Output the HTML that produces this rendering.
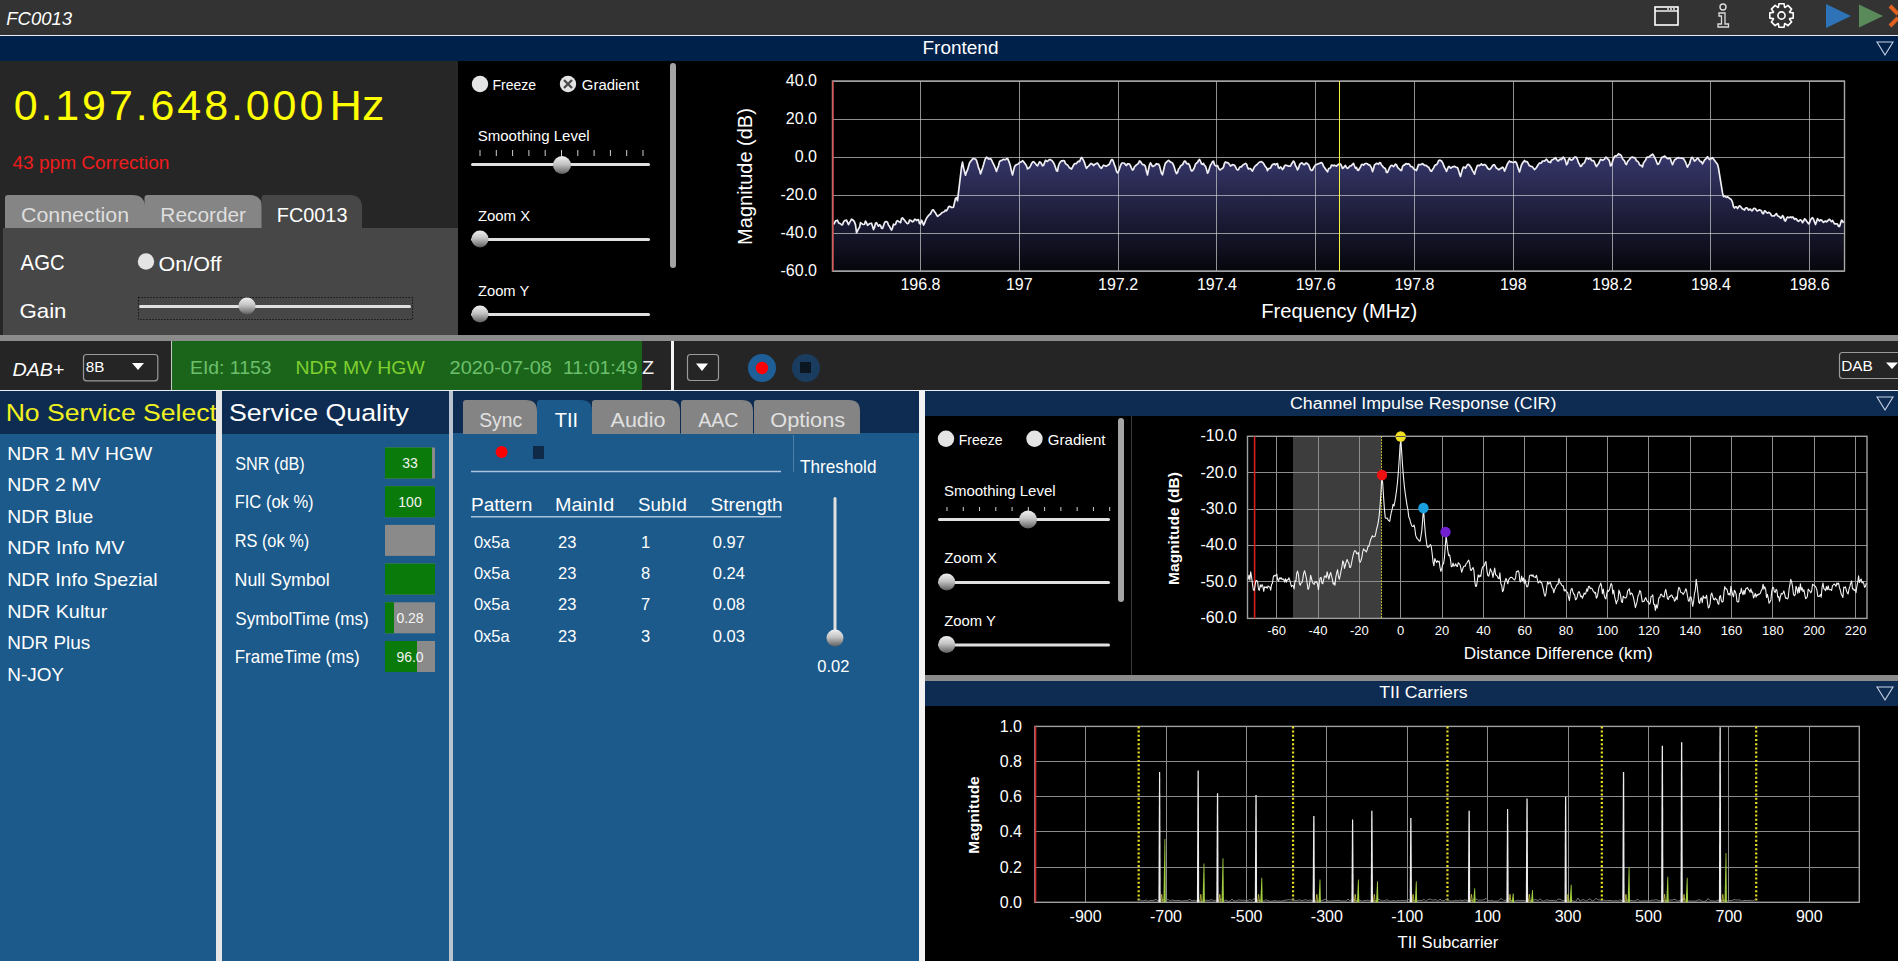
<!DOCTYPE html>
<html><head><meta charset="utf-8"><style>
html,body{margin:0;padding:0;background:#000;width:1898px;height:961px;overflow:hidden}
svg{display:block}
text{font-family:"Liberation Sans",sans-serif}
</style></head><body>
<svg width="1898" height="961" viewBox="0 0 1898 961" font-family="Liberation Sans, sans-serif">
<defs>
<linearGradient id="thumb" x1="0" y1="0" x2="0" y2="1">
<stop offset="0" stop-color="#f0f0f0"/><stop offset="0.45" stop-color="#c4c4c4"/><stop offset="1" stop-color="#5e5e5e"/></linearGradient>
<linearGradient id="specfill" gradientUnits="userSpaceOnUse" x1="0" y1="150" x2="0" y2="271">
<stop offset="0" stop-color="#39396f"/><stop offset="1" stop-color="#06060d"/></linearGradient>
</defs>
<rect x="0" y="0" width="1898" height="35" fill="#333333" />
<text x="6.35" y="25" font-size="19" fill="#ffffff" font-weight="normal" font-style="italic" textLength="65.70" lengthAdjust="spacingAndGlyphs" >FC0013</text>
<rect x="0" y="35" width="1898" height="1" fill="#e8eef4" />
<rect x="1655" y="7" width="23" height="18" fill="none" stroke="#fff" stroke-width="1.6"/>
<line x1="1655" y1="11" x2="1678" y2="11" stroke="#fff" stroke-width="1.4"/>
<circle cx="1668" cy="9" r="0.9" fill="#fff" />
<circle cx="1671" cy="9" r="0.9" fill="#fff" />
<circle cx="1674" cy="9" r="0.9" fill="#fff" />
<circle cx="1723" cy="7" r="3" fill="none" stroke="#ddd" stroke-width="1.4"/>
<path d="M1719 13 H1725 V24 H1728.5 V27 H1718 V24 H1721.5 V16 H1719 Z" fill="none" stroke="#ddd" stroke-width="1.3"/>
<polygon points="1793.21,12.88 1793.21,18.12 1789.74,18.60 1789.52,19.13 1791.63,21.93 1787.93,25.63 1785.13,23.52 1784.60,23.74 1784.12,27.21 1778.88,27.21 1778.40,23.74 1777.87,23.52 1775.07,25.63 1771.37,21.93 1773.48,19.13 1773.26,18.60 1769.79,18.12 1769.79,12.88 1773.26,12.40 1773.48,11.87 1771.37,9.07 1775.07,5.37 1777.87,7.48 1778.40,7.26 1778.88,3.79 1784.12,3.79 1784.60,7.26 1785.13,7.48 1787.93,5.37 1791.63,9.07 1789.52,11.87 1789.74,12.40" fill="none" stroke="#fff" stroke-width="1.6" stroke-linejoin="round"/>
<circle cx="1781.5" cy="15.5" r="3.6" fill="none" stroke="#fff" stroke-width="1.6"/>
<path d="M1826 4 L1851 16 L1826 28 Z" fill="#2e73b8"/>
<path d="M1859 4.5 L1883 16 L1859 27.5 Z" fill="#5a8a5a"/>
<path d="M1890 6 L1898 14 M1890 26 L1898 18" stroke="#e06020" stroke-width="4"/>
<rect x="0" y="36" width="1898" height="25" fill="#00214a" />
<text x="922.48" y="54" font-size="18" fill="#fff" font-weight="normal" font-style="normal" textLength="76.01" lengthAdjust="spacingAndGlyphs" >Frontend</text>
<path d="M1877 42 L1893 42 L1885.0 55 Z" fill="none" stroke="#c8d4e8" stroke-width="1.1"/>
<rect x="0" y="61" width="458" height="274" fill="#262626" />
<text x="13.66" y="120" font-size="43" fill="#ffff00" font-weight="normal" font-style="normal" textLength="309.64" lengthAdjust="spacing" >0.197.648.000</text>
<text x="329.50" y="120" font-size="43" fill="#ffff00" font-weight="normal" font-style="normal" textLength="54.94" lengthAdjust="spacingAndGlyphs" >Hz</text>
<text x="12.42" y="168.6" font-size="18" fill="#ee1c1c" font-weight="normal" font-style="normal" textLength="156.95" lengthAdjust="spacingAndGlyphs" >43 ppm Correction</text>
<path d="M5 229 V198 Q5 195 8 195 H132.5 Q145 195 145 207.5 V229 Z" fill="#858585"/>
<path d="M144.5 229 V198 Q144.5 195 147.5 195 H249.5 Q262 195 262 207.5 V229 Z" fill="#858585"/>
<path d="M261.5 229 V198 Q261.5 195 264.5 195 H349.5 Q362 195 362 207.5 V229 Z" fill="#474747"/>
<text x="21.03" y="221.5" font-size="20" fill="#dedede" font-weight="normal" font-style="normal" textLength="108.13" lengthAdjust="spacingAndGlyphs" >Connection</text>
<text x="160.33" y="221.5" font-size="20" fill="#dedede" font-weight="normal" font-style="normal" textLength="85.74" lengthAdjust="spacingAndGlyphs" >Recorder</text>
<text x="276.81" y="221.5" font-size="20" fill="#ffffff" font-weight="normal" font-style="normal" textLength="70.64" lengthAdjust="spacingAndGlyphs" >FC0013</text>
<rect x="3" y="228" width="455" height="107" fill="#474747" />
<text x="20.60" y="269.6" font-size="22" fill="#fff" font-weight="normal" font-style="normal" textLength="44.05" lengthAdjust="spacingAndGlyphs" >AGC</text>
<circle cx="146" cy="261.5" r="8.2" fill="#e4e4e4" />
<text x="158.63" y="271.3" font-size="21" fill="#fff" font-weight="normal" font-style="normal" textLength="62.91" lengthAdjust="spacingAndGlyphs" >On/Off</text>
<text x="19.49" y="317.5" font-size="21" fill="#fff" font-weight="normal" font-style="normal" textLength="47.00" lengthAdjust="spacingAndGlyphs" >Gain</text>
<rect x="138.5" y="297.5" width="274" height="22" fill="none" stroke="#111" stroke-width="1.1" stroke-dasharray="1.3,1.7"/>
<rect x="139" y="305" width="272" height="3" fill="#e0e0e0" rx="1.5"/>
<circle cx="247" cy="306" r="8.5" fill="url(#thumb)" />
<rect x="458" y="61" width="1440" height="274" fill="#000000" />
<circle cx="480" cy="84" r="8.2" fill="#e4e4e4" />
<text x="492.48" y="90" font-size="15" fill="#fff" font-weight="normal" font-style="normal" textLength="43.72" lengthAdjust="spacingAndGlyphs" >Freeze</text>
<circle cx="568" cy="84" r="8.2" fill="#e4e4e4" />
<path d="M564 80 L572 88 M572 80 L564 88" stroke="#4a4a4a" stroke-width="2.3"/>
<text x="581.85" y="90" font-size="15" fill="#fff" font-weight="normal" font-style="normal" textLength="57.23" lengthAdjust="spacingAndGlyphs" >Gradient</text>
<text x="477.72" y="140.5" font-size="15" fill="#fff" font-weight="normal" font-style="normal" textLength="111.92" lengthAdjust="spacingAndGlyphs" >Smoothing Level</text>
<line x1="480.0" y1="150" x2="480.0" y2="156" stroke="#cfcfcf" stroke-width="1" />
<line x1="496.3" y1="150" x2="496.3" y2="156" stroke="#cfcfcf" stroke-width="1" />
<line x1="512.6" y1="150" x2="512.6" y2="156" stroke="#cfcfcf" stroke-width="1" />
<line x1="528.9" y1="150" x2="528.9" y2="156" stroke="#cfcfcf" stroke-width="1" />
<line x1="545.2" y1="150" x2="545.2" y2="156" stroke="#cfcfcf" stroke-width="1" />
<line x1="561.5" y1="150" x2="561.5" y2="156" stroke="#cfcfcf" stroke-width="1" />
<line x1="577.8" y1="150" x2="577.8" y2="156" stroke="#cfcfcf" stroke-width="1" />
<line x1="594.1" y1="150" x2="594.1" y2="156" stroke="#cfcfcf" stroke-width="1" />
<line x1="610.4" y1="150" x2="610.4" y2="156" stroke="#cfcfcf" stroke-width="1" />
<line x1="626.7" y1="150" x2="626.7" y2="156" stroke="#cfcfcf" stroke-width="1" />
<line x1="643.0" y1="150" x2="643.0" y2="156" stroke="#cfcfcf" stroke-width="1" />
<rect x="471" y="163" width="179" height="3" fill="#e0e0e0" rx="1.5"/>
<circle cx="562" cy="165" r="9" fill="url(#thumb)" />
<text x="477.95" y="221.2" font-size="15" fill="#fff" font-weight="normal" font-style="normal" textLength="52.16" lengthAdjust="spacingAndGlyphs" >Zoom X</text>
<rect x="471" y="238" width="179" height="3" fill="#e0e0e0" rx="1.5"/>
<circle cx="480" cy="239" r="8.5" fill="url(#thumb)" />
<text x="477.96" y="296.2" font-size="15" fill="#fff" font-weight="normal" font-style="normal" textLength="51.28" lengthAdjust="spacingAndGlyphs" >Zoom Y</text>
<rect x="471" y="313" width="179" height="3" fill="#e0e0e0" rx="1.5"/>
<circle cx="480" cy="314" r="8.5" fill="url(#thumb)" />
<rect x="670" y="63" width="6" height="205" fill="#a4a4a4" rx="3"/>
<path d="M833.5,271 L833.5,224.5 L834.5,223.1 L835.5,220.9 L836.5,220.6 L837.5,220.2 L838.5,222.7 L839.5,223.4 L840.5,223.7 L841.5,224.8 L842.5,224.7 L843.5,222.1 L844.5,220.7 L845.5,220.5 L846.5,220.1 L847.5,222.4 L848.5,224.7 L849.5,222.6 L850.5,221.1 L851.5,219.2 L852.5,219.8 L853.5,220.5 L854.5,222.0 L855.5,224.9 L856.5,232.7 L857.5,231.0 L858.5,228.7 L859.5,227.5 L860.5,222.7 L861.5,223.4 L862.5,224.2 L863.5,224.5 L864.5,224.2 L865.5,221.1 L866.5,222.7 L867.5,225.3 L868.5,224.6 L869.5,223.7 L870.5,223.5 L871.5,223.2 L872.5,226.2 L873.5,229.6 L874.5,227.5 L875.5,223.3 L876.5,222.7 L877.5,224.6 L878.5,226.2 L879.5,224.8 L880.5,225.4 L881.5,228.2 L882.5,228.5 L883.5,225.7 L884.5,222.8 L885.5,221.6 L886.5,221.7 L887.5,222.2 L888.5,225.3 L889.5,226.4 L890.5,228.4 L891.5,230.2 L892.5,227.8 L893.5,224.2 L894.5,224.8 L895.5,224.5 L896.5,221.5 L897.5,220.6 L898.5,221.4 L899.5,221.9 L900.5,222.7 L901.5,218.7 L902.5,217.8 L903.5,219.2 L904.5,220.2 L905.5,221.6 L906.5,222.8 L907.5,223.6 L908.5,223.3 L909.5,220.1 L910.5,220.3 L911.5,221.0 L912.5,221.8 L913.5,221.3 L914.5,219.3 L915.5,219.3 L916.5,220.6 L917.5,219.8 L918.5,219.7 L919.5,223.5 L920.5,223.9 L921.5,220.2 L922.5,222.1 L923.5,225.1 L924.5,223.3 L925.5,220.4 L926.5,218.4 L927.5,216.8 L928.5,215.6 L929.5,214.5 L930.5,213.8 L931.5,211.6 L932.5,209.9 L933.5,209.9 L934.5,211.8 L935.5,212.9 L936.5,214.8 L937.5,216.4 L938.5,215.7 L939.5,214.9 L940.5,214.2 L941.5,213.2 L942.5,212.3 L943.5,212.0 L944.5,211.5 L945.5,210.1 L946.5,210.8 L947.5,209.1 L948.5,206.8 L949.5,206.4 L950.5,206.8 L951.5,207.5 L952.5,207.4 L953.5,207.1 L954.5,202.7 L955.5,198.5 L956.5,197.7 L957.5,200.8 L958.5,192.4 L959.5,184.0 L960.5,175.6 L961.5,167.2 L962.5,162.2 L963.5,167.6 L964.5,171.6 L965.5,175.2 L966.5,172.1 L967.5,169.9 L968.5,166.4 L969.5,163.0 L970.5,161.4 L971.5,160.4 L972.5,159.0 L973.5,158.5 L974.5,158.9 L975.5,159.0 L976.5,160.5 L977.5,163.7 L978.5,167.6 L979.5,169.9 L980.5,173.9 L981.5,170.9 L982.5,168.1 L983.5,165.0 L984.5,161.3 L985.5,158.5 L986.5,157.2 L987.5,157.8 L988.5,159.1 L989.5,159.0 L990.5,158.6 L991.5,159.9 L992.5,162.1 L993.5,164.2 L994.5,166.2 L995.5,168.7 L996.5,171.4 L997.5,168.2 L998.5,165.8 L999.5,161.7 L1000.5,160.6 L1001.5,160.7 L1002.5,159.8 L1003.5,159.3 L1004.5,159.6 L1005.5,159.6 L1006.5,158.9 L1007.5,158.5 L1008.5,160.5 L1009.5,163.1 L1010.5,166.6 L1011.5,171.3 L1012.5,175.0 L1013.5,170.7 L1014.5,166.8 L1015.5,165.3 L1016.5,164.7 L1017.5,164.3 L1018.5,163.8 L1019.5,162.6 L1020.5,162.1 L1021.5,161.8 L1022.5,160.7 L1023.5,161.6 L1024.5,162.9 L1025.5,164.3 L1026.5,165.9 L1027.5,168.9 L1028.5,168.2 L1029.5,167.5 L1030.5,165.9 L1031.5,163.7 L1032.5,162.1 L1033.5,161.7 L1034.5,162.7 L1035.5,163.6 L1036.5,165.1 L1037.5,165.9 L1038.5,163.9 L1039.5,161.9 L1040.5,162.3 L1041.5,163.8 L1042.5,165.8 L1043.5,165.5 L1044.5,162.9 L1045.5,160.3 L1046.5,160.9 L1047.5,161.4 L1048.5,160.3 L1049.5,159.5 L1050.5,159.7 L1051.5,160.3 L1052.5,161.2 L1053.5,162.7 L1054.5,164.7 L1055.5,167.5 L1056.5,170.7 L1057.5,171.1 L1058.5,165.7 L1059.5,163.2 L1060.5,161.8 L1061.5,160.8 L1062.5,160.9 L1063.5,160.5 L1064.5,161.1 L1065.5,163.6 L1066.5,164.4 L1067.5,164.9 L1068.5,166.4 L1069.5,167.9 L1070.5,168.3 L1071.5,169.0 L1072.5,167.2 L1073.5,165.2 L1074.5,163.6 L1075.5,163.7 L1076.5,163.7 L1077.5,161.9 L1078.5,161.2 L1079.5,161.7 L1080.5,159.2 L1081.5,157.4 L1082.5,158.6 L1083.5,160.4 L1084.5,162.6 L1085.5,166.0 L1086.5,168.3 L1087.5,166.9 L1088.5,166.1 L1089.5,165.2 L1090.5,163.7 L1091.5,163.5 L1092.5,164.3 L1093.5,165.6 L1094.5,164.4 L1095.5,164.2 L1096.5,163.4 L1097.5,163.2 L1098.5,164.6 L1099.5,166.2 L1100.5,167.7 L1101.5,168.3 L1102.5,166.6 L1103.5,165.2 L1104.5,165.5 L1105.5,166.1 L1106.5,166.2 L1107.5,165.3 L1108.5,164.9 L1109.5,164.0 L1110.5,161.7 L1111.5,159.7 L1112.5,159.7 L1113.5,161.8 L1114.5,165.2 L1115.5,167.4 L1116.5,171.3 L1117.5,172.9 L1118.5,171.5 L1119.5,168.8 L1120.5,165.6 L1121.5,163.6 L1122.5,163.0 L1123.5,163.0 L1124.5,163.3 L1125.5,164.8 L1126.5,165.5 L1127.5,163.8 L1128.5,163.8 L1129.5,164.1 L1130.5,165.8 L1131.5,168.2 L1132.5,170.1 L1133.5,169.3 L1134.5,166.7 L1135.5,165.9 L1136.5,164.7 L1137.5,164.3 L1138.5,163.1 L1139.5,160.9 L1140.5,161.5 L1141.5,163.3 L1142.5,164.6 L1143.5,164.7 L1144.5,165.1 L1145.5,166.8 L1146.5,171.6 L1147.5,174.9 L1148.5,169.5 L1149.5,165.0 L1150.5,162.8 L1151.5,164.6 L1152.5,166.5 L1153.5,166.1 L1154.5,165.8 L1155.5,164.7 L1156.5,163.7 L1157.5,164.3 L1158.5,164.0 L1159.5,165.9 L1160.5,169.6 L1161.5,173.5 L1162.5,174.8 L1163.5,170.5 L1164.5,166.0 L1165.5,163.0 L1166.5,162.1 L1167.5,161.1 L1168.5,160.4 L1169.5,161.2 L1170.5,162.2 L1171.5,162.4 L1172.5,163.2 L1173.5,165.0 L1174.5,168.1 L1175.5,171.4 L1176.5,173.6 L1177.5,172.7 L1178.5,169.0 L1179.5,168.0 L1180.5,166.1 L1181.5,165.0 L1182.5,164.9 L1183.5,162.7 L1184.5,161.0 L1185.5,161.4 L1186.5,163.3 L1187.5,164.0 L1188.5,163.6 L1189.5,165.2 L1190.5,168.6 L1191.5,171.0 L1192.5,170.7 L1193.5,169.3 L1194.5,167.2 L1195.5,164.1 L1196.5,163.1 L1197.5,162.5 L1198.5,160.5 L1199.5,159.3 L1200.5,161.3 L1201.5,163.9 L1202.5,164.3 L1203.5,163.4 L1204.5,165.5 L1205.5,166.2 L1206.5,169.4 L1207.5,173.2 L1208.5,171.5 L1209.5,168.1 L1210.5,165.0 L1211.5,163.7 L1212.5,161.5 L1213.5,161.2 L1214.5,164.7 L1215.5,165.8 L1216.5,165.9 L1217.5,165.7 L1218.5,167.9 L1219.5,169.6 L1220.5,169.8 L1221.5,168.7 L1222.5,168.4 L1223.5,167.0 L1224.5,163.3 L1225.5,161.9 L1226.5,162.6 L1227.5,162.6 L1228.5,163.3 L1229.5,164.6 L1230.5,166.0 L1231.5,165.5 L1232.5,164.6 L1233.5,165.0 L1234.5,165.1 L1235.5,166.8 L1236.5,169.0 L1237.5,170.0 L1238.5,169.7 L1239.5,167.2 L1240.5,166.9 L1241.5,166.9 L1242.5,165.2 L1243.5,164.7 L1244.5,164.1 L1245.5,163.4 L1246.5,164.1 L1247.5,167.1 L1248.5,169.0 L1249.5,168.5 L1250.5,168.5 L1251.5,170.1 L1252.5,171.0 L1253.5,168.8 L1254.5,166.8 L1255.5,165.7 L1256.5,165.1 L1257.5,164.0 L1258.5,163.0 L1259.5,162.0 L1260.5,161.9 L1261.5,161.7 L1262.5,162.4 L1263.5,163.3 L1264.5,165.2 L1265.5,166.8 L1266.5,167.9 L1267.5,170.6 L1268.5,168.6 L1269.5,168.4 L1270.5,168.0 L1271.5,166.0 L1272.5,164.4 L1273.5,164.3 L1274.5,163.8 L1275.5,164.9 L1276.5,163.8 L1277.5,163.7 L1278.5,167.7 L1279.5,168.3 L1280.5,166.9 L1281.5,167.9 L1282.5,169.5 L1283.5,168.4 L1284.5,165.9 L1285.5,165.1 L1286.5,165.5 L1287.5,165.7 L1288.5,166.1 L1289.5,166.1 L1290.5,166.1 L1291.5,164.0 L1292.5,162.5 L1293.5,161.1 L1294.5,162.5 L1295.5,165.7 L1296.5,167.3 L1297.5,169.9 L1298.5,168.2 L1299.5,165.0 L1300.5,163.6 L1301.5,162.9 L1302.5,163.3 L1303.5,164.5 L1304.5,164.6 L1305.5,163.4 L1306.5,163.0 L1307.5,163.8 L1308.5,164.6 L1309.5,167.0 L1310.5,169.7 L1311.5,170.5 L1312.5,170.2 L1313.5,168.1 L1314.5,166.2 L1315.5,165.0 L1316.5,164.4 L1317.5,164.1 L1318.5,163.7 L1319.5,163.5 L1320.5,162.8 L1321.5,162.6 L1322.5,163.6 L1323.5,166.2 L1324.5,167.5 L1325.5,169.1 L1326.5,170.4 L1327.5,171.9 L1328.5,169.0 L1329.5,168.2 L1330.5,167.7 L1331.5,165.1 L1332.5,165.3 L1333.5,165.8 L1334.5,165.2 L1335.5,165.7 L1336.5,166.1 L1337.5,165.0 L1338.5,164.5 L1339.5,163.7 L1340.5,164.0 L1341.5,165.8 L1342.5,168.4 L1343.5,167.8 L1344.5,166.4 L1345.5,165.5 L1346.5,167.6 L1347.5,168.4 L1348.5,167.7 L1349.5,166.4 L1350.5,165.8 L1351.5,165.6 L1352.5,164.3 L1353.5,163.3 L1354.5,166.0 L1355.5,168.2 L1356.5,167.5 L1357.5,170.1 L1358.5,170.3 L1359.5,168.5 L1360.5,167.0 L1361.5,164.5 L1362.5,164.4 L1363.5,165.2 L1364.5,164.1 L1365.5,163.5 L1366.5,163.5 L1367.5,163.9 L1368.5,164.8 L1369.5,164.8 L1370.5,166.2 L1371.5,168.0 L1372.5,171.6 L1373.5,168.7 L1374.5,164.9 L1375.5,164.2 L1376.5,163.4 L1377.5,163.6 L1378.5,164.3 L1379.5,162.7 L1380.5,162.8 L1381.5,165.0 L1382.5,166.0 L1383.5,167.5 L1384.5,168.0 L1385.5,168.9 L1386.5,172.5 L1387.5,172.5 L1388.5,170.2 L1389.5,167.7 L1390.5,166.2 L1391.5,165.3 L1392.5,165.5 L1393.5,166.7 L1394.5,165.5 L1395.5,164.1 L1396.5,165.0 L1397.5,167.0 L1398.5,168.4 L1399.5,169.1 L1400.5,170.3 L1401.5,170.5 L1402.5,166.7 L1403.5,165.1 L1404.5,165.1 L1405.5,163.9 L1406.5,163.7 L1407.5,164.1 L1408.5,163.8 L1409.5,164.4 L1410.5,166.5 L1411.5,166.7 L1412.5,166.9 L1413.5,168.7 L1414.5,169.6 L1415.5,169.6 L1416.5,170.5 L1417.5,167.6 L1418.5,164.6 L1419.5,164.5 L1420.5,164.7 L1421.5,164.2 L1422.5,163.6 L1423.5,164.5 L1424.5,165.4 L1425.5,165.4 L1426.5,165.6 L1427.5,166.8 L1428.5,167.0 L1429.5,168.8 L1430.5,170.9 L1431.5,171.3 L1432.5,169.5 L1433.5,168.2 L1434.5,166.1 L1435.5,164.8 L1436.5,164.6 L1437.5,163.5 L1438.5,160.7 L1439.5,160.2 L1440.5,160.4 L1441.5,161.0 L1442.5,162.5 L1443.5,164.9 L1444.5,167.4 L1445.5,169.0 L1446.5,171.4 L1447.5,169.0 L1448.5,166.5 L1449.5,166.7 L1450.5,168.1 L1451.5,167.7 L1452.5,166.9 L1453.5,166.7 L1454.5,166.3 L1455.5,166.9 L1456.5,167.5 L1457.5,167.6 L1458.5,170.1 L1459.5,173.9 L1460.5,176.5 L1461.5,172.6 L1462.5,169.0 L1463.5,167.0 L1464.5,167.3 L1465.5,168.2 L1466.5,166.2 L1467.5,164.6 L1468.5,164.4 L1469.5,165.3 L1470.5,166.8 L1471.5,168.3 L1472.5,170.6 L1473.5,172.1 L1474.5,174.2 L1475.5,170.5 L1476.5,167.7 L1477.5,165.4 L1478.5,165.4 L1479.5,165.6 L1480.5,164.7 L1481.5,163.9 L1482.5,165.2 L1483.5,164.9 L1484.5,164.4 L1485.5,164.9 L1486.5,166.3 L1487.5,168.0 L1488.5,168.9 L1489.5,169.5 L1490.5,168.7 L1491.5,167.3 L1492.5,165.7 L1493.5,164.8 L1494.5,164.9 L1495.5,166.6 L1496.5,168.2 L1497.5,168.5 L1498.5,169.8 L1499.5,169.4 L1500.5,168.3 L1501.5,168.1 L1502.5,167.2 L1503.5,168.1 L1504.5,171.1 L1505.5,168.9 L1506.5,166.1 L1507.5,163.8 L1508.5,162.2 L1509.5,161.0 L1510.5,162.0 L1511.5,161.9 L1512.5,162.3 L1513.5,162.5 L1514.5,161.9 L1515.5,161.7 L1516.5,163.1 L1517.5,166.0 L1518.5,169.3 L1519.5,171.9 L1520.5,168.5 L1521.5,165.0 L1522.5,163.1 L1523.5,161.9 L1524.5,160.5 L1525.5,161.6 L1526.5,161.5 L1527.5,162.1 L1528.5,164.2 L1529.5,165.7 L1530.5,166.1 L1531.5,166.5 L1532.5,166.9 L1533.5,168.4 L1534.5,169.5 L1535.5,168.6 L1536.5,167.5 L1537.5,165.8 L1538.5,164.2 L1539.5,163.1 L1540.5,163.2 L1541.5,162.7 L1542.5,161.0 L1543.5,161.0 L1544.5,161.1 L1545.5,160.2 L1546.5,159.1 L1547.5,160.6 L1548.5,162.0 L1549.5,162.1 L1550.5,162.6 L1551.5,160.1 L1552.5,159.9 L1553.5,159.2 L1554.5,158.5 L1555.5,157.7 L1556.5,159.3 L1557.5,160.7 L1558.5,161.0 L1559.5,159.5 L1560.5,159.1 L1561.5,159.6 L1562.5,157.6 L1563.5,157.2 L1564.5,158.7 L1565.5,160.9 L1566.5,164.8 L1567.5,163.5 L1568.5,159.8 L1569.5,158.2 L1570.5,159.7 L1571.5,160.2 L1572.5,159.6 L1573.5,158.6 L1574.5,157.1 L1575.5,157.1 L1576.5,157.6 L1577.5,159.7 L1578.5,162.7 L1579.5,164.3 L1580.5,166.3 L1581.5,166.1 L1582.5,164.2 L1583.5,163.4 L1584.5,162.7 L1585.5,160.0 L1586.5,157.7 L1587.5,158.4 L1588.5,159.2 L1589.5,158.2 L1590.5,158.5 L1591.5,160.4 L1592.5,160.7 L1593.5,160.6 L1594.5,162.3 L1595.5,165.0 L1596.5,166.6 L1597.5,164.9 L1598.5,163.8 L1599.5,161.6 L1600.5,159.3 L1601.5,159.7 L1602.5,160.3 L1603.5,159.9 L1604.5,159.1 L1605.5,157.4 L1606.5,157.3 L1607.5,158.9 L1608.5,159.3 L1609.5,161.4 L1610.5,165.9 L1611.5,165.2 L1612.5,161.6 L1613.5,158.5 L1614.5,156.5 L1615.5,155.8 L1616.5,156.0 L1617.5,155.2 L1618.5,153.7 L1619.5,154.7 L1620.5,154.7 L1621.5,156.0 L1622.5,158.8 L1623.5,159.9 L1624.5,160.9 L1625.5,163.7 L1626.5,164.5 L1627.5,161.8 L1628.5,160.5 L1629.5,159.5 L1630.5,157.9 L1631.5,157.3 L1632.5,157.0 L1633.5,157.7 L1634.5,157.5 L1635.5,158.7 L1636.5,160.9 L1637.5,161.2 L1638.5,162.3 L1639.5,164.8 L1640.5,165.2 L1641.5,165.8 L1642.5,166.8 L1643.5,162.9 L1644.5,161.6 L1645.5,160.2 L1646.5,157.9 L1647.5,157.0 L1648.5,157.3 L1649.5,156.6 L1650.5,155.5 L1651.5,155.1 L1652.5,154.1 L1653.5,155.3 L1654.5,157.1 L1655.5,159.2 L1656.5,161.6 L1657.5,164.3 L1658.5,164.2 L1659.5,162.4 L1660.5,160.0 L1661.5,157.9 L1662.5,157.0 L1663.5,156.9 L1664.5,156.1 L1665.5,156.7 L1666.5,157.9 L1667.5,158.6 L1668.5,158.7 L1669.5,157.9 L1670.5,158.9 L1671.5,162.5 L1672.5,164.7 L1673.5,162.1 L1674.5,160.0 L1675.5,159.3 L1676.5,158.5 L1677.5,157.8 L1678.5,157.7 L1679.5,157.9 L1680.5,158.0 L1681.5,158.1 L1682.5,158.3 L1683.5,158.5 L1684.5,160.4 L1685.5,162.0 L1686.5,164.8 L1687.5,167.2 L1688.5,165.0 L1689.5,163.8 L1690.5,160.3 L1691.5,157.5 L1692.5,157.4 L1693.5,159.1 L1694.5,161.1 L1695.5,160.4 L1696.5,159.2 L1697.5,158.0 L1698.5,158.9 L1699.5,160.7 L1700.5,161.7 L1701.5,161.7 L1702.5,163.9 L1703.5,162.1 L1704.5,160.0 L1705.5,159.3 L1706.5,157.9 L1707.5,156.7 L1708.5,158.5 L1709.5,159.5 L1710.5,158.7 L1711.5,158.6 L1712.5,157.7 L1713.5,159.0 L1714.5,160.3 L1715.5,161.7 L1716.5,163.0 L1717.5,164.3 L1718.5,168.1 L1719.5,174.3 L1720.5,180.5 L1721.5,186.7 L1722.5,192.9 L1723.5,196.6 L1724.5,196.1 L1725.5,196.7 L1726.5,197.4 L1727.5,196.8 L1728.5,197.4 L1729.5,198.4 L1730.5,198.9 L1731.5,200.0 L1732.5,202.4 L1733.5,206.8 L1734.5,208.0 L1735.5,206.8 L1736.5,206.9 L1737.5,208.5 L1738.5,207.1 L1739.5,205.8 L1740.5,206.4 L1741.5,207.7 L1742.5,209.0 L1743.5,209.3 L1744.5,210.0 L1745.5,208.1 L1746.5,207.8 L1747.5,208.3 L1748.5,210.2 L1749.5,209.3 L1750.5,209.1 L1751.5,210.7 L1752.5,210.6 L1753.5,208.6 L1754.5,208.3 L1755.5,208.7 L1756.5,210.4 L1757.5,210.9 L1758.5,210.3 L1759.5,209.9 L1760.5,210.2 L1761.5,211.1 L1762.5,213.4 L1763.5,213.7 L1764.5,210.8 L1765.5,211.3 L1766.5,212.6 L1767.5,213.1 L1768.5,212.4 L1769.5,212.8 L1770.5,213.6 L1771.5,215.7 L1772.5,216.0 L1773.5,215.8 L1774.5,215.8 L1775.5,214.5 L1776.5,213.6 L1777.5,215.6 L1778.5,216.3 L1779.5,216.5 L1780.5,218.1 L1781.5,217.9 L1782.5,215.6 L1783.5,216.6 L1784.5,220.5 L1785.5,221.1 L1786.5,218.4 L1787.5,217.1 L1788.5,217.6 L1789.5,217.5 L1790.5,216.9 L1791.5,217.7 L1792.5,217.0 L1793.5,217.6 L1794.5,219.4 L1795.5,218.6 L1796.5,219.0 L1797.5,220.7 L1798.5,221.3 L1799.5,220.3 L1800.5,219.9 L1801.5,220.4 L1802.5,222.7 L1803.5,221.4 L1804.5,218.8 L1805.5,219.4 L1806.5,221.0 L1807.5,222.3 L1808.5,223.9 L1809.5,222.9 L1810.5,220.0 L1811.5,218.4 L1812.5,217.7 L1813.5,219.2 L1814.5,221.9 L1815.5,224.5 L1816.5,221.8 L1817.5,218.7 L1818.5,219.9 L1819.5,221.0 L1820.5,219.9 L1821.5,220.0 L1822.5,221.4 L1823.5,222.3 L1824.5,221.5 L1825.5,221.0 L1826.5,221.9 L1827.5,221.1 L1828.5,219.9 L1829.5,219.3 L1830.5,220.5 L1831.5,221.6 L1832.5,220.5 L1833.5,222.1 L1834.5,223.9 L1835.5,223.8 L1836.5,223.8 L1837.5,224.0 L1838.5,226.4 L1839.5,226.5 L1840.5,223.5 L1841.5,220.2 L1842.5,221.0 L1843.5,222.9 L1843.5,271 Z" fill="url(#specfill)"/>
<line x1="920.5" y1="81" x2="920.5" y2="271" stroke="rgba(200,200,200,0.72)" stroke-width="1" />
<line x1="1019.5" y1="81" x2="1019.5" y2="271" stroke="rgba(200,200,200,0.72)" stroke-width="1" />
<line x1="1118.5" y1="81" x2="1118.5" y2="271" stroke="rgba(200,200,200,0.72)" stroke-width="1" />
<line x1="1216.5" y1="81" x2="1216.5" y2="271" stroke="rgba(200,200,200,0.72)" stroke-width="1" />
<line x1="1315.5" y1="81" x2="1315.5" y2="271" stroke="rgba(200,200,200,0.72)" stroke-width="1" />
<line x1="1414.5" y1="81" x2="1414.5" y2="271" stroke="rgba(200,200,200,0.72)" stroke-width="1" />
<line x1="1513.5" y1="81" x2="1513.5" y2="271" stroke="rgba(200,200,200,0.72)" stroke-width="1" />
<line x1="1612.5" y1="81" x2="1612.5" y2="271" stroke="rgba(200,200,200,0.72)" stroke-width="1" />
<line x1="1710.5" y1="81" x2="1710.5" y2="271" stroke="rgba(200,200,200,0.72)" stroke-width="1" />
<line x1="1809.5" y1="81" x2="1809.5" y2="271" stroke="rgba(200,200,200,0.72)" stroke-width="1" />
<line x1="832.5" y1="81.5" x2="1844.5" y2="81.5" stroke="rgba(200,200,200,0.72)" stroke-width="1" />
<line x1="832.5" y1="119.5" x2="1844.5" y2="119.5" stroke="rgba(200,200,200,0.72)" stroke-width="1" />
<line x1="832.5" y1="157.5" x2="1844.5" y2="157.5" stroke="rgba(200,200,200,0.72)" stroke-width="1" />
<line x1="832.5" y1="195.5" x2="1844.5" y2="195.5" stroke="rgba(200,200,200,0.72)" stroke-width="1" />
<line x1="832.5" y1="233.5" x2="1844.5" y2="233.5" stroke="rgba(200,200,200,0.72)" stroke-width="1" />
<line x1="832.5" y1="271.5" x2="1844.5" y2="271.5" stroke="rgba(200,200,200,0.72)" stroke-width="1" />
<rect x="832.5" y="81" width="1012.0" height="190" fill="none" stroke="#a8a8a8" stroke-width="1.4"/>
<polyline points="833.5,224.5 834.5,223.1 835.5,220.9 836.5,220.6 837.5,220.2 838.5,222.7 839.5,223.4 840.5,223.7 841.5,224.8 842.5,224.7 843.5,222.1 844.5,220.7 845.5,220.5 846.5,220.1 847.5,222.4 848.5,224.7 849.5,222.6 850.5,221.1 851.5,219.2 852.5,219.8 853.5,220.5 854.5,222.0 855.5,224.9 856.5,232.7 857.5,231.0 858.5,228.7 859.5,227.5 860.5,222.7 861.5,223.4 862.5,224.2 863.5,224.5 864.5,224.2 865.5,221.1 866.5,222.7 867.5,225.3 868.5,224.6 869.5,223.7 870.5,223.5 871.5,223.2 872.5,226.2 873.5,229.6 874.5,227.5 875.5,223.3 876.5,222.7 877.5,224.6 878.5,226.2 879.5,224.8 880.5,225.4 881.5,228.2 882.5,228.5 883.5,225.7 884.5,222.8 885.5,221.6 886.5,221.7 887.5,222.2 888.5,225.3 889.5,226.4 890.5,228.4 891.5,230.2 892.5,227.8 893.5,224.2 894.5,224.8 895.5,224.5 896.5,221.5 897.5,220.6 898.5,221.4 899.5,221.9 900.5,222.7 901.5,218.7 902.5,217.8 903.5,219.2 904.5,220.2 905.5,221.6 906.5,222.8 907.5,223.6 908.5,223.3 909.5,220.1 910.5,220.3 911.5,221.0 912.5,221.8 913.5,221.3 914.5,219.3 915.5,219.3 916.5,220.6 917.5,219.8 918.5,219.7 919.5,223.5 920.5,223.9 921.5,220.2 922.5,222.1 923.5,225.1 924.5,223.3 925.5,220.4 926.5,218.4 927.5,216.8 928.5,215.6 929.5,214.5 930.5,213.8 931.5,211.6 932.5,209.9 933.5,209.9 934.5,211.8 935.5,212.9 936.5,214.8 937.5,216.4 938.5,215.7 939.5,214.9 940.5,214.2 941.5,213.2 942.5,212.3 943.5,212.0 944.5,211.5 945.5,210.1 946.5,210.8 947.5,209.1 948.5,206.8 949.5,206.4 950.5,206.8 951.5,207.5 952.5,207.4 953.5,207.1 954.5,202.7 955.5,198.5 956.5,197.7 957.5,200.8 958.5,192.4 959.5,184.0 960.5,175.6 961.5,167.2 962.5,162.2 963.5,167.6 964.5,171.6 965.5,175.2 966.5,172.1 967.5,169.9 968.5,166.4 969.5,163.0 970.5,161.4 971.5,160.4 972.5,159.0 973.5,158.5 974.5,158.9 975.5,159.0 976.5,160.5 977.5,163.7 978.5,167.6 979.5,169.9 980.5,173.9 981.5,170.9 982.5,168.1 983.5,165.0 984.5,161.3 985.5,158.5 986.5,157.2 987.5,157.8 988.5,159.1 989.5,159.0 990.5,158.6 991.5,159.9 992.5,162.1 993.5,164.2 994.5,166.2 995.5,168.7 996.5,171.4 997.5,168.2 998.5,165.8 999.5,161.7 1000.5,160.6 1001.5,160.7 1002.5,159.8 1003.5,159.3 1004.5,159.6 1005.5,159.6 1006.5,158.9 1007.5,158.5 1008.5,160.5 1009.5,163.1 1010.5,166.6 1011.5,171.3 1012.5,175.0 1013.5,170.7 1014.5,166.8 1015.5,165.3 1016.5,164.7 1017.5,164.3 1018.5,163.8 1019.5,162.6 1020.5,162.1 1021.5,161.8 1022.5,160.7 1023.5,161.6 1024.5,162.9 1025.5,164.3 1026.5,165.9 1027.5,168.9 1028.5,168.2 1029.5,167.5 1030.5,165.9 1031.5,163.7 1032.5,162.1 1033.5,161.7 1034.5,162.7 1035.5,163.6 1036.5,165.1 1037.5,165.9 1038.5,163.9 1039.5,161.9 1040.5,162.3 1041.5,163.8 1042.5,165.8 1043.5,165.5 1044.5,162.9 1045.5,160.3 1046.5,160.9 1047.5,161.4 1048.5,160.3 1049.5,159.5 1050.5,159.7 1051.5,160.3 1052.5,161.2 1053.5,162.7 1054.5,164.7 1055.5,167.5 1056.5,170.7 1057.5,171.1 1058.5,165.7 1059.5,163.2 1060.5,161.8 1061.5,160.8 1062.5,160.9 1063.5,160.5 1064.5,161.1 1065.5,163.6 1066.5,164.4 1067.5,164.9 1068.5,166.4 1069.5,167.9 1070.5,168.3 1071.5,169.0 1072.5,167.2 1073.5,165.2 1074.5,163.6 1075.5,163.7 1076.5,163.7 1077.5,161.9 1078.5,161.2 1079.5,161.7 1080.5,159.2 1081.5,157.4 1082.5,158.6 1083.5,160.4 1084.5,162.6 1085.5,166.0 1086.5,168.3 1087.5,166.9 1088.5,166.1 1089.5,165.2 1090.5,163.7 1091.5,163.5 1092.5,164.3 1093.5,165.6 1094.5,164.4 1095.5,164.2 1096.5,163.4 1097.5,163.2 1098.5,164.6 1099.5,166.2 1100.5,167.7 1101.5,168.3 1102.5,166.6 1103.5,165.2 1104.5,165.5 1105.5,166.1 1106.5,166.2 1107.5,165.3 1108.5,164.9 1109.5,164.0 1110.5,161.7 1111.5,159.7 1112.5,159.7 1113.5,161.8 1114.5,165.2 1115.5,167.4 1116.5,171.3 1117.5,172.9 1118.5,171.5 1119.5,168.8 1120.5,165.6 1121.5,163.6 1122.5,163.0 1123.5,163.0 1124.5,163.3 1125.5,164.8 1126.5,165.5 1127.5,163.8 1128.5,163.8 1129.5,164.1 1130.5,165.8 1131.5,168.2 1132.5,170.1 1133.5,169.3 1134.5,166.7 1135.5,165.9 1136.5,164.7 1137.5,164.3 1138.5,163.1 1139.5,160.9 1140.5,161.5 1141.5,163.3 1142.5,164.6 1143.5,164.7 1144.5,165.1 1145.5,166.8 1146.5,171.6 1147.5,174.9 1148.5,169.5 1149.5,165.0 1150.5,162.8 1151.5,164.6 1152.5,166.5 1153.5,166.1 1154.5,165.8 1155.5,164.7 1156.5,163.7 1157.5,164.3 1158.5,164.0 1159.5,165.9 1160.5,169.6 1161.5,173.5 1162.5,174.8 1163.5,170.5 1164.5,166.0 1165.5,163.0 1166.5,162.1 1167.5,161.1 1168.5,160.4 1169.5,161.2 1170.5,162.2 1171.5,162.4 1172.5,163.2 1173.5,165.0 1174.5,168.1 1175.5,171.4 1176.5,173.6 1177.5,172.7 1178.5,169.0 1179.5,168.0 1180.5,166.1 1181.5,165.0 1182.5,164.9 1183.5,162.7 1184.5,161.0 1185.5,161.4 1186.5,163.3 1187.5,164.0 1188.5,163.6 1189.5,165.2 1190.5,168.6 1191.5,171.0 1192.5,170.7 1193.5,169.3 1194.5,167.2 1195.5,164.1 1196.5,163.1 1197.5,162.5 1198.5,160.5 1199.5,159.3 1200.5,161.3 1201.5,163.9 1202.5,164.3 1203.5,163.4 1204.5,165.5 1205.5,166.2 1206.5,169.4 1207.5,173.2 1208.5,171.5 1209.5,168.1 1210.5,165.0 1211.5,163.7 1212.5,161.5 1213.5,161.2 1214.5,164.7 1215.5,165.8 1216.5,165.9 1217.5,165.7 1218.5,167.9 1219.5,169.6 1220.5,169.8 1221.5,168.7 1222.5,168.4 1223.5,167.0 1224.5,163.3 1225.5,161.9 1226.5,162.6 1227.5,162.6 1228.5,163.3 1229.5,164.6 1230.5,166.0 1231.5,165.5 1232.5,164.6 1233.5,165.0 1234.5,165.1 1235.5,166.8 1236.5,169.0 1237.5,170.0 1238.5,169.7 1239.5,167.2 1240.5,166.9 1241.5,166.9 1242.5,165.2 1243.5,164.7 1244.5,164.1 1245.5,163.4 1246.5,164.1 1247.5,167.1 1248.5,169.0 1249.5,168.5 1250.5,168.5 1251.5,170.1 1252.5,171.0 1253.5,168.8 1254.5,166.8 1255.5,165.7 1256.5,165.1 1257.5,164.0 1258.5,163.0 1259.5,162.0 1260.5,161.9 1261.5,161.7 1262.5,162.4 1263.5,163.3 1264.5,165.2 1265.5,166.8 1266.5,167.9 1267.5,170.6 1268.5,168.6 1269.5,168.4 1270.5,168.0 1271.5,166.0 1272.5,164.4 1273.5,164.3 1274.5,163.8 1275.5,164.9 1276.5,163.8 1277.5,163.7 1278.5,167.7 1279.5,168.3 1280.5,166.9 1281.5,167.9 1282.5,169.5 1283.5,168.4 1284.5,165.9 1285.5,165.1 1286.5,165.5 1287.5,165.7 1288.5,166.1 1289.5,166.1 1290.5,166.1 1291.5,164.0 1292.5,162.5 1293.5,161.1 1294.5,162.5 1295.5,165.7 1296.5,167.3 1297.5,169.9 1298.5,168.2 1299.5,165.0 1300.5,163.6 1301.5,162.9 1302.5,163.3 1303.5,164.5 1304.5,164.6 1305.5,163.4 1306.5,163.0 1307.5,163.8 1308.5,164.6 1309.5,167.0 1310.5,169.7 1311.5,170.5 1312.5,170.2 1313.5,168.1 1314.5,166.2 1315.5,165.0 1316.5,164.4 1317.5,164.1 1318.5,163.7 1319.5,163.5 1320.5,162.8 1321.5,162.6 1322.5,163.6 1323.5,166.2 1324.5,167.5 1325.5,169.1 1326.5,170.4 1327.5,171.9 1328.5,169.0 1329.5,168.2 1330.5,167.7 1331.5,165.1 1332.5,165.3 1333.5,165.8 1334.5,165.2 1335.5,165.7 1336.5,166.1 1337.5,165.0 1338.5,164.5 1339.5,163.7 1340.5,164.0 1341.5,165.8 1342.5,168.4 1343.5,167.8 1344.5,166.4 1345.5,165.5 1346.5,167.6 1347.5,168.4 1348.5,167.7 1349.5,166.4 1350.5,165.8 1351.5,165.6 1352.5,164.3 1353.5,163.3 1354.5,166.0 1355.5,168.2 1356.5,167.5 1357.5,170.1 1358.5,170.3 1359.5,168.5 1360.5,167.0 1361.5,164.5 1362.5,164.4 1363.5,165.2 1364.5,164.1 1365.5,163.5 1366.5,163.5 1367.5,163.9 1368.5,164.8 1369.5,164.8 1370.5,166.2 1371.5,168.0 1372.5,171.6 1373.5,168.7 1374.5,164.9 1375.5,164.2 1376.5,163.4 1377.5,163.6 1378.5,164.3 1379.5,162.7 1380.5,162.8 1381.5,165.0 1382.5,166.0 1383.5,167.5 1384.5,168.0 1385.5,168.9 1386.5,172.5 1387.5,172.5 1388.5,170.2 1389.5,167.7 1390.5,166.2 1391.5,165.3 1392.5,165.5 1393.5,166.7 1394.5,165.5 1395.5,164.1 1396.5,165.0 1397.5,167.0 1398.5,168.4 1399.5,169.1 1400.5,170.3 1401.5,170.5 1402.5,166.7 1403.5,165.1 1404.5,165.1 1405.5,163.9 1406.5,163.7 1407.5,164.1 1408.5,163.8 1409.5,164.4 1410.5,166.5 1411.5,166.7 1412.5,166.9 1413.5,168.7 1414.5,169.6 1415.5,169.6 1416.5,170.5 1417.5,167.6 1418.5,164.6 1419.5,164.5 1420.5,164.7 1421.5,164.2 1422.5,163.6 1423.5,164.5 1424.5,165.4 1425.5,165.4 1426.5,165.6 1427.5,166.8 1428.5,167.0 1429.5,168.8 1430.5,170.9 1431.5,171.3 1432.5,169.5 1433.5,168.2 1434.5,166.1 1435.5,164.8 1436.5,164.6 1437.5,163.5 1438.5,160.7 1439.5,160.2 1440.5,160.4 1441.5,161.0 1442.5,162.5 1443.5,164.9 1444.5,167.4 1445.5,169.0 1446.5,171.4 1447.5,169.0 1448.5,166.5 1449.5,166.7 1450.5,168.1 1451.5,167.7 1452.5,166.9 1453.5,166.7 1454.5,166.3 1455.5,166.9 1456.5,167.5 1457.5,167.6 1458.5,170.1 1459.5,173.9 1460.5,176.5 1461.5,172.6 1462.5,169.0 1463.5,167.0 1464.5,167.3 1465.5,168.2 1466.5,166.2 1467.5,164.6 1468.5,164.4 1469.5,165.3 1470.5,166.8 1471.5,168.3 1472.5,170.6 1473.5,172.1 1474.5,174.2 1475.5,170.5 1476.5,167.7 1477.5,165.4 1478.5,165.4 1479.5,165.6 1480.5,164.7 1481.5,163.9 1482.5,165.2 1483.5,164.9 1484.5,164.4 1485.5,164.9 1486.5,166.3 1487.5,168.0 1488.5,168.9 1489.5,169.5 1490.5,168.7 1491.5,167.3 1492.5,165.7 1493.5,164.8 1494.5,164.9 1495.5,166.6 1496.5,168.2 1497.5,168.5 1498.5,169.8 1499.5,169.4 1500.5,168.3 1501.5,168.1 1502.5,167.2 1503.5,168.1 1504.5,171.1 1505.5,168.9 1506.5,166.1 1507.5,163.8 1508.5,162.2 1509.5,161.0 1510.5,162.0 1511.5,161.9 1512.5,162.3 1513.5,162.5 1514.5,161.9 1515.5,161.7 1516.5,163.1 1517.5,166.0 1518.5,169.3 1519.5,171.9 1520.5,168.5 1521.5,165.0 1522.5,163.1 1523.5,161.9 1524.5,160.5 1525.5,161.6 1526.5,161.5 1527.5,162.1 1528.5,164.2 1529.5,165.7 1530.5,166.1 1531.5,166.5 1532.5,166.9 1533.5,168.4 1534.5,169.5 1535.5,168.6 1536.5,167.5 1537.5,165.8 1538.5,164.2 1539.5,163.1 1540.5,163.2 1541.5,162.7 1542.5,161.0 1543.5,161.0 1544.5,161.1 1545.5,160.2 1546.5,159.1 1547.5,160.6 1548.5,162.0 1549.5,162.1 1550.5,162.6 1551.5,160.1 1552.5,159.9 1553.5,159.2 1554.5,158.5 1555.5,157.7 1556.5,159.3 1557.5,160.7 1558.5,161.0 1559.5,159.5 1560.5,159.1 1561.5,159.6 1562.5,157.6 1563.5,157.2 1564.5,158.7 1565.5,160.9 1566.5,164.8 1567.5,163.5 1568.5,159.8 1569.5,158.2 1570.5,159.7 1571.5,160.2 1572.5,159.6 1573.5,158.6 1574.5,157.1 1575.5,157.1 1576.5,157.6 1577.5,159.7 1578.5,162.7 1579.5,164.3 1580.5,166.3 1581.5,166.1 1582.5,164.2 1583.5,163.4 1584.5,162.7 1585.5,160.0 1586.5,157.7 1587.5,158.4 1588.5,159.2 1589.5,158.2 1590.5,158.5 1591.5,160.4 1592.5,160.7 1593.5,160.6 1594.5,162.3 1595.5,165.0 1596.5,166.6 1597.5,164.9 1598.5,163.8 1599.5,161.6 1600.5,159.3 1601.5,159.7 1602.5,160.3 1603.5,159.9 1604.5,159.1 1605.5,157.4 1606.5,157.3 1607.5,158.9 1608.5,159.3 1609.5,161.4 1610.5,165.9 1611.5,165.2 1612.5,161.6 1613.5,158.5 1614.5,156.5 1615.5,155.8 1616.5,156.0 1617.5,155.2 1618.5,153.7 1619.5,154.7 1620.5,154.7 1621.5,156.0 1622.5,158.8 1623.5,159.9 1624.5,160.9 1625.5,163.7 1626.5,164.5 1627.5,161.8 1628.5,160.5 1629.5,159.5 1630.5,157.9 1631.5,157.3 1632.5,157.0 1633.5,157.7 1634.5,157.5 1635.5,158.7 1636.5,160.9 1637.5,161.2 1638.5,162.3 1639.5,164.8 1640.5,165.2 1641.5,165.8 1642.5,166.8 1643.5,162.9 1644.5,161.6 1645.5,160.2 1646.5,157.9 1647.5,157.0 1648.5,157.3 1649.5,156.6 1650.5,155.5 1651.5,155.1 1652.5,154.1 1653.5,155.3 1654.5,157.1 1655.5,159.2 1656.5,161.6 1657.5,164.3 1658.5,164.2 1659.5,162.4 1660.5,160.0 1661.5,157.9 1662.5,157.0 1663.5,156.9 1664.5,156.1 1665.5,156.7 1666.5,157.9 1667.5,158.6 1668.5,158.7 1669.5,157.9 1670.5,158.9 1671.5,162.5 1672.5,164.7 1673.5,162.1 1674.5,160.0 1675.5,159.3 1676.5,158.5 1677.5,157.8 1678.5,157.7 1679.5,157.9 1680.5,158.0 1681.5,158.1 1682.5,158.3 1683.5,158.5 1684.5,160.4 1685.5,162.0 1686.5,164.8 1687.5,167.2 1688.5,165.0 1689.5,163.8 1690.5,160.3 1691.5,157.5 1692.5,157.4 1693.5,159.1 1694.5,161.1 1695.5,160.4 1696.5,159.2 1697.5,158.0 1698.5,158.9 1699.5,160.7 1700.5,161.7 1701.5,161.7 1702.5,163.9 1703.5,162.1 1704.5,160.0 1705.5,159.3 1706.5,157.9 1707.5,156.7 1708.5,158.5 1709.5,159.5 1710.5,158.7 1711.5,158.6 1712.5,157.7 1713.5,159.0 1714.5,160.3 1715.5,161.7 1716.5,163.0 1717.5,164.3 1718.5,168.1 1719.5,174.3 1720.5,180.5 1721.5,186.7 1722.5,192.9 1723.5,196.6 1724.5,196.1 1725.5,196.7 1726.5,197.4 1727.5,196.8 1728.5,197.4 1729.5,198.4 1730.5,198.9 1731.5,200.0 1732.5,202.4 1733.5,206.8 1734.5,208.0 1735.5,206.8 1736.5,206.9 1737.5,208.5 1738.5,207.1 1739.5,205.8 1740.5,206.4 1741.5,207.7 1742.5,209.0 1743.5,209.3 1744.5,210.0 1745.5,208.1 1746.5,207.8 1747.5,208.3 1748.5,210.2 1749.5,209.3 1750.5,209.1 1751.5,210.7 1752.5,210.6 1753.5,208.6 1754.5,208.3 1755.5,208.7 1756.5,210.4 1757.5,210.9 1758.5,210.3 1759.5,209.9 1760.5,210.2 1761.5,211.1 1762.5,213.4 1763.5,213.7 1764.5,210.8 1765.5,211.3 1766.5,212.6 1767.5,213.1 1768.5,212.4 1769.5,212.8 1770.5,213.6 1771.5,215.7 1772.5,216.0 1773.5,215.8 1774.5,215.8 1775.5,214.5 1776.5,213.6 1777.5,215.6 1778.5,216.3 1779.5,216.5 1780.5,218.1 1781.5,217.9 1782.5,215.6 1783.5,216.6 1784.5,220.5 1785.5,221.1 1786.5,218.4 1787.5,217.1 1788.5,217.6 1789.5,217.5 1790.5,216.9 1791.5,217.7 1792.5,217.0 1793.5,217.6 1794.5,219.4 1795.5,218.6 1796.5,219.0 1797.5,220.7 1798.5,221.3 1799.5,220.3 1800.5,219.9 1801.5,220.4 1802.5,222.7 1803.5,221.4 1804.5,218.8 1805.5,219.4 1806.5,221.0 1807.5,222.3 1808.5,223.9 1809.5,222.9 1810.5,220.0 1811.5,218.4 1812.5,217.7 1813.5,219.2 1814.5,221.9 1815.5,224.5 1816.5,221.8 1817.5,218.7 1818.5,219.9 1819.5,221.0 1820.5,219.9 1821.5,220.0 1822.5,221.4 1823.5,222.3 1824.5,221.5 1825.5,221.0 1826.5,221.9 1827.5,221.1 1828.5,219.9 1829.5,219.3 1830.5,220.5 1831.5,221.6 1832.5,220.5 1833.5,222.1 1834.5,223.9 1835.5,223.8 1836.5,223.8 1837.5,224.0 1838.5,226.4 1839.5,226.5 1840.5,223.5 1841.5,220.2 1842.5,221.0 1843.5,222.9" fill="none" stroke="#eeeef4" stroke-width="1.7" stroke-linejoin="round"/>
<line x1="833" y1="81" x2="833" y2="271" stroke="#d84848" stroke-width="1.4" />
<line x1="1339.5" y1="81" x2="1339.5" y2="271" stroke="#f4f040" stroke-width="1" />
<text x="817" y="85.8" font-size="16" fill="#fff" text-anchor="end" font-weight="normal" font-style="normal" >40.0</text>
<text x="817" y="123.8" font-size="16" fill="#fff" text-anchor="end" font-weight="normal" font-style="normal" >20.0</text>
<text x="817" y="161.8" font-size="16" fill="#fff" text-anchor="end" font-weight="normal" font-style="normal" >0.0</text>
<text x="817" y="199.8" font-size="16" fill="#fff" text-anchor="end" font-weight="normal" font-style="normal" >-20.0</text>
<text x="817" y="237.8" font-size="16" fill="#fff" text-anchor="end" font-weight="normal" font-style="normal" >-40.0</text>
<text x="817" y="275.8" font-size="16" fill="#fff" text-anchor="end" font-weight="normal" font-style="normal" >-60.0</text>
<text x="920.5" y="289.5" font-size="16" fill="#fff" text-anchor="middle" font-weight="normal" font-style="normal" >196.8</text>
<text x="1019.3" y="289.5" font-size="16" fill="#fff" text-anchor="middle" font-weight="normal" font-style="normal" >197</text>
<text x="1118.1" y="289.5" font-size="16" fill="#fff" text-anchor="middle" font-weight="normal" font-style="normal" >197.2</text>
<text x="1216.9" y="289.5" font-size="16" fill="#fff" text-anchor="middle" font-weight="normal" font-style="normal" >197.4</text>
<text x="1315.7" y="289.5" font-size="16" fill="#fff" text-anchor="middle" font-weight="normal" font-style="normal" >197.6</text>
<text x="1414.5" y="289.5" font-size="16" fill="#fff" text-anchor="middle" font-weight="normal" font-style="normal" >197.8</text>
<text x="1513.3" y="289.5" font-size="16" fill="#fff" text-anchor="middle" font-weight="normal" font-style="normal" >198</text>
<text x="1612.1" y="289.5" font-size="16" fill="#fff" text-anchor="middle" font-weight="normal" font-style="normal" >198.2</text>
<text x="1710.9" y="289.5" font-size="16" fill="#fff" text-anchor="middle" font-weight="normal" font-style="normal" >198.4</text>
<text x="1809.6999999999998" y="289.5" font-size="16" fill="#fff" text-anchor="middle" font-weight="normal" font-style="normal" >198.6</text>
<text x="1261.29" y="318" font-size="20" fill="#fff" font-weight="normal" font-style="normal" textLength="155.90" lengthAdjust="spacingAndGlyphs" >Frequency (MHz)</text>
<text x="0" y="0" font-size="20" fill="#fff" text-anchor="middle" transform="translate(752,176.5) rotate(-90)">Magnitude (dB)</text>
<rect x="0" y="335" width="1898" height="6" fill="#8b8b8b" />
<rect x="0" y="341" width="1898" height="49" fill="#252525" />
<text x="12.51" y="376" font-size="18.5" fill="#fff" font-weight="normal" font-style="italic" textLength="51.78" lengthAdjust="spacingAndGlyphs" >DAB+</text>
<rect x="83.5" y="354.5" width="74.3" height="26.3" rx="3" fill="none" stroke="#9a9a9a" stroke-width="1.2"/>
<text x="85.79" y="372" font-size="15" fill="#fff" font-weight="normal" font-style="normal" textLength="18.62" lengthAdjust="spacingAndGlyphs" >8B</text>
<path d="M132 363 L144 363 L138 370 Z" fill="#fff"/>
<rect x="171" y="341" width="1" height="49" fill="#c4ccc4" />
<rect x="172" y="341" width="470" height="49" fill="#1b651b" />
<text x="190.05" y="374" font-size="18.5" fill="#6cc06c" font-weight="normal" font-style="normal" textLength="81.36" lengthAdjust="spacingAndGlyphs" >EId: 1153</text>
<text x="295.55" y="374" font-size="18.5" fill="#80d030" font-weight="normal" font-style="normal" textLength="129.17" lengthAdjust="spacingAndGlyphs" >NDR MV HGW</text>
<text x="449.60" y="374" font-size="18.5" fill="#6cc06c" font-weight="normal" font-style="normal" textLength="102.41" lengthAdjust="spacingAndGlyphs" >2020-07-08</text>
<text x="562.93" y="374" font-size="18.5" fill="#6cc06c" font-weight="normal" font-style="normal" textLength="74.61" lengthAdjust="spacingAndGlyphs" >11:01:49</text>
<text x="642.01" y="374" font-size="18.5" fill="#f0f0f0" font-weight="normal" font-style="normal" textLength="12.11" lengthAdjust="spacingAndGlyphs" >Z</text>
<rect x="671" y="341" width="3" height="49" fill="#f4f4f4" />
<rect x="687.5" y="354.5" width="31" height="26" rx="3" fill="none" stroke="#9a9a9a" stroke-width="1.2"/>
<path d="M696 363.5 L708 363.5 L702 371 Z" fill="#fff"/>
<circle cx="762" cy="368" r="14" fill="#1f5f98" />
<circle cx="762" cy="368" r="6.2" fill="#ff0000" />
<circle cx="806" cy="368" r="14" fill="#1a3c5e" />
<rect x="800" y="362" width="11" height="11" fill="#0c1620" />
<rect x="1839.5" y="352.5" width="70" height="26" rx="3" fill="none" stroke="#9a9a9a" stroke-width="1.2"/>
<text x="1841.17" y="371" font-size="15" fill="#fff" font-weight="normal" font-style="normal" textLength="31.62" lengthAdjust="spacingAndGlyphs" >DAB</text>
<path d="M1886 362.5 L1898 362.5 L1892 369 Z" fill="#fff"/>
<rect x="0" y="390" width="1898" height="1" fill="#e8eef4" />
<rect x="0" y="391" width="216" height="43" fill="#0e2c51" />
<rect x="0" y="434" width="216" height="527" fill="#1b5a8b" />
<clipPath id="clipsl"><rect x="0" y="391" width="216" height="50"/></clipPath>
<text x="5.67" y="421" font-size="24.5" fill="#f0f020" font-weight="normal" font-style="normal" textLength="211.34" lengthAdjust="spacingAndGlyphs" clip-path="url(#clipsl)">No Service Select</text>
<text x="7.25" y="459.8" font-size="18.5" fill="#fff" font-weight="normal" font-style="normal" textLength="144.94" lengthAdjust="spacingAndGlyphs" >NDR 1 MV HGW</text>
<text x="7.24" y="491.36" font-size="18.5" fill="#fff" font-weight="normal" font-style="normal" textLength="93.43" lengthAdjust="spacingAndGlyphs" >NDR 2 MV</text>
<text x="7.25" y="522.92" font-size="18.5" fill="#fff" font-weight="normal" font-style="normal" textLength="85.94" lengthAdjust="spacingAndGlyphs" >NDR Blue</text>
<text x="7.21" y="554.48" font-size="18.5" fill="#fff" font-weight="normal" font-style="normal" textLength="117.40" lengthAdjust="spacingAndGlyphs" >NDR Info MV</text>
<text x="7.23" y="586.04" font-size="18.5" fill="#fff" font-weight="normal" font-style="normal" textLength="150.34" lengthAdjust="spacingAndGlyphs" >NDR Info Spezial</text>
<text x="7.21" y="617.6" font-size="18.5" fill="#fff" font-weight="normal" font-style="normal" textLength="100.22" lengthAdjust="spacingAndGlyphs" >NDR Kultur</text>
<text x="7.29" y="649.16" font-size="18.5" fill="#fff" font-weight="normal" font-style="normal" textLength="82.97" lengthAdjust="spacingAndGlyphs" >NDR Plus</text>
<text x="7.29" y="680.72" font-size="18.5" fill="#fff" font-weight="normal" font-style="normal" textLength="56.69" lengthAdjust="spacingAndGlyphs" >N-JOY</text>
<rect x="216" y="391" width="6" height="570" fill="#e6e6e6" />
<rect x="222" y="391" width="227" height="43" fill="#0e2c51" />
<rect x="222" y="434" width="227" height="527" fill="#1b5a8b" />
<text x="228.90" y="421" font-size="24.5" fill="#fff" font-weight="normal" font-style="normal" textLength="179.90" lengthAdjust="spacingAndGlyphs" >Service Quality</text>
<text x="235.27" y="469.7" font-size="17.5" fill="#fff" font-weight="normal" font-style="normal" textLength="69.36" lengthAdjust="spacingAndGlyphs" >SNR (dB)</text>
<rect x="385" y="447.5" width="50" height="31" fill="#8a8a8a" />
<rect x="385" y="447.5" width="47.0" height="31" fill="#0a7a0a" />
<text x="410" y="468.0" font-size="14" fill="#f4f4f4" text-anchor="middle" font-weight="normal" font-style="normal" >33</text>
<text x="234.68" y="508.4" font-size="17.5" fill="#fff" font-weight="normal" font-style="normal" textLength="78.96" lengthAdjust="spacingAndGlyphs" >FIC (ok %)</text>
<rect x="385" y="486.2" width="50" height="31" fill="#8a8a8a" />
<rect x="385" y="486.2" width="50.0" height="31" fill="#0a7a0a" />
<text x="410" y="506.7" font-size="14" fill="#f4f4f4" text-anchor="middle" font-weight="normal" font-style="normal" >100</text>
<text x="234.69" y="547.1" font-size="17.5" fill="#fff" font-weight="normal" font-style="normal" textLength="74.41" lengthAdjust="spacingAndGlyphs" >RS (ok %)</text>
<rect x="385" y="524.9" width="50" height="31" fill="#8a8a8a" />
<text x="234.57" y="585.8000000000001" font-size="17.5" fill="#fff" font-weight="normal" font-style="normal" textLength="95.19" lengthAdjust="spacingAndGlyphs" >Null Symbol</text>
<rect x="385" y="563.6" width="50" height="31" fill="#8a8a8a" />
<rect x="385" y="563.6" width="50.0" height="31" fill="#0a7a0a" />
<text x="235.23" y="624.5" font-size="17.5" fill="#fff" font-weight="normal" font-style="normal" textLength="133.43" lengthAdjust="spacingAndGlyphs" >SymbolTime (ms)</text>
<rect x="385" y="602.3" width="50" height="31" fill="#8a8a8a" />
<rect x="385" y="602.3" width="9.0" height="31" fill="#0a7a0a" />
<text x="410" y="622.8" font-size="14" fill="#f4f4f4" text-anchor="middle" font-weight="normal" font-style="normal" >0.28</text>
<text x="234.64" y="663.2" font-size="17.5" fill="#fff" font-weight="normal" font-style="normal" textLength="125.00" lengthAdjust="spacingAndGlyphs" >FrameTime (ms)</text>
<rect x="385" y="641.0" width="50" height="31" fill="#8a8a8a" />
<rect x="385" y="641.0" width="32.0" height="31" fill="#0a7a0a" />
<text x="410" y="661.5" font-size="14" fill="#f4f4f4" text-anchor="middle" font-weight="normal" font-style="normal" >96.0</text>
<rect x="449" y="391" width="4" height="570" fill="#b9c4cf" />
<rect x="453" y="391" width="466" height="42" fill="#0e2c51" />
<rect x="453" y="433" width="466" height="528" fill="#1b5a8b" />
<path d="M463 434 V403 Q463 400 466 400 H526 Q537 400 537 411 V434 Z" fill="#848484"/>
<text x="479.23" y="427" font-size="21" fill="#e0e0e0" font-weight="normal" font-style="normal" textLength="42.81" lengthAdjust="spacingAndGlyphs" >Sync</text>
<path d="M537 434 V403 Q537 400 540 400 H581 Q592 400 592 411 V434 Z" fill="#1b5a8b"/>
<text x="554.80" y="427" font-size="21" fill="#ffffff" font-weight="normal" font-style="normal" textLength="23.33" lengthAdjust="spacingAndGlyphs" >TII</text>
<path d="M592 434 V403 Q592 400 595 400 H669 Q680 400 680 411 V434 Z" fill="#848484"/>
<text x="610.60" y="427" font-size="21" fill="#e0e0e0" font-weight="normal" font-style="normal" textLength="54.92" lengthAdjust="spacingAndGlyphs" >Audio</text>
<path d="M681 434 V403 Q681 400 684 400 H742 Q753 400 753 411 V434 Z" fill="#848484"/>
<text x="698.20" y="427" font-size="21" fill="#e0e0e0" font-weight="normal" font-style="normal" textLength="40.11" lengthAdjust="spacingAndGlyphs" >AAC</text>
<path d="M754 434 V403 Q754 400 757 400 H849 Q860 400 860 411 V434 Z" fill="#848484"/>
<text x="770.22" y="427" font-size="21" fill="#e0e0e0" font-weight="normal" font-style="normal" textLength="74.97" lengthAdjust="spacingAndGlyphs" >Options</text>
<circle cx="501.6" cy="452" r="6" fill="#ff0000" />
<rect x="533" y="446" width="11" height="13" fill="#0e2a48" />
<line x1="471" y1="471.5" x2="781" y2="471.5" stroke="#a8c4dc" stroke-width="1.5" />
<line x1="793.5" y1="435" x2="793.5" y2="472" stroke="#4f7fa8" stroke-width="1" />
<text x="800.06" y="472.7" font-size="19" fill="#fff" font-weight="normal" font-style="normal" textLength="76.41" lengthAdjust="spacingAndGlyphs" >Threshold</text>
<text x="470.98" y="510.9" font-size="19" fill="#fff" font-weight="normal" font-style="normal" textLength="61.45" lengthAdjust="spacingAndGlyphs" >Pattern</text>
<text x="555.02" y="510.9" font-size="19" fill="#fff" font-weight="normal" font-style="normal" textLength="59.30" lengthAdjust="spacingAndGlyphs" >MainId</text>
<text x="638.06" y="510.9" font-size="19" fill="#fff" font-weight="normal" font-style="normal" textLength="48.72" lengthAdjust="spacingAndGlyphs" >SubId</text>
<text x="710.54" y="510.9" font-size="19" fill="#fff" font-weight="normal" font-style="normal" textLength="72.21" lengthAdjust="spacingAndGlyphs" >Strength</text>
<line x1="471" y1="516.8" x2="781" y2="516.8" stroke="#a8c4dc" stroke-width="1.5" />
<text x="473.9" y="547.7" font-size="16.5" fill="#fff" text-anchor="start" font-weight="normal" font-style="normal" >0x5a</text>
<text x="558" y="547.7" font-size="16.5" fill="#fff" text-anchor="start" font-weight="normal" font-style="normal" >23</text>
<text x="641" y="547.7" font-size="16.5" fill="#fff" text-anchor="start" font-weight="normal" font-style="normal" >1</text>
<text x="712.8" y="547.7" font-size="16.5" fill="#fff" text-anchor="start" font-weight="normal" font-style="normal" >0.97</text>
<text x="473.9" y="579.0500000000001" font-size="16.5" fill="#fff" text-anchor="start" font-weight="normal" font-style="normal" >0x5a</text>
<text x="558" y="579.0500000000001" font-size="16.5" fill="#fff" text-anchor="start" font-weight="normal" font-style="normal" >23</text>
<text x="641" y="579.0500000000001" font-size="16.5" fill="#fff" text-anchor="start" font-weight="normal" font-style="normal" >8</text>
<text x="712.8" y="579.0500000000001" font-size="16.5" fill="#fff" text-anchor="start" font-weight="normal" font-style="normal" >0.24</text>
<text x="473.9" y="610.4000000000001" font-size="16.5" fill="#fff" text-anchor="start" font-weight="normal" font-style="normal" >0x5a</text>
<text x="558" y="610.4000000000001" font-size="16.5" fill="#fff" text-anchor="start" font-weight="normal" font-style="normal" >23</text>
<text x="641" y="610.4000000000001" font-size="16.5" fill="#fff" text-anchor="start" font-weight="normal" font-style="normal" >7</text>
<text x="712.8" y="610.4000000000001" font-size="16.5" fill="#fff" text-anchor="start" font-weight="normal" font-style="normal" >0.08</text>
<text x="473.9" y="641.75" font-size="16.5" fill="#fff" text-anchor="start" font-weight="normal" font-style="normal" >0x5a</text>
<text x="558" y="641.75" font-size="16.5" fill="#fff" text-anchor="start" font-weight="normal" font-style="normal" >23</text>
<text x="641" y="641.75" font-size="16.5" fill="#fff" text-anchor="start" font-weight="normal" font-style="normal" >3</text>
<text x="712.8" y="641.75" font-size="16.5" fill="#fff" text-anchor="start" font-weight="normal" font-style="normal" >0.03</text>
<rect x="833.5" y="497" width="3" height="141" fill="#e0e0e0" rx="1.5"/>
<circle cx="835" cy="638" r="8.5" fill="url(#thumb)" />
<text x="833.3" y="671.7" font-size="16.5" fill="#fff" text-anchor="middle" font-weight="normal" font-style="normal" >0.02</text>
<rect x="919" y="391" width="6" height="570" fill="#f2f2f2" />
<rect x="925" y="391" width="973" height="25" fill="#0e2c51" />
<text x="1290.01" y="408.5" font-size="17.3" fill="#fff" font-weight="normal" font-style="normal" textLength="266.39" lengthAdjust="spacingAndGlyphs" >Channel Impulse Response (CIR)</text>
<path d="M1877 397 L1893 397 L1885.0 410 Z" fill="none" stroke="#c8d4e8" stroke-width="1.1"/>
<rect x="925" y="416" width="973" height="259" fill="#000" />
<circle cx="946" cy="438.7" r="8.2" fill="#e4e4e4" />
<text x="958.78" y="444.6" font-size="15" fill="#fff" font-weight="normal" font-style="normal" textLength="43.72" lengthAdjust="spacingAndGlyphs" >Freeze</text>
<circle cx="1034.5" cy="438.7" r="8.2" fill="#e4e4e4" />
<text x="1047.85" y="444.6" font-size="15" fill="#fff" font-weight="normal" font-style="normal" textLength="57.63" lengthAdjust="spacingAndGlyphs" >Gradient</text>
<text x="943.93" y="496" font-size="15" fill="#fff" font-weight="normal" font-style="normal" textLength="111.72" lengthAdjust="spacingAndGlyphs" >Smoothing Level</text>
<line x1="947.0" y1="507" x2="947.0" y2="511" stroke="#cfcfcf" stroke-width="1" />
<line x1="963.27" y1="507" x2="963.27" y2="511" stroke="#cfcfcf" stroke-width="1" />
<line x1="979.54" y1="507" x2="979.54" y2="511" stroke="#cfcfcf" stroke-width="1" />
<line x1="995.81" y1="507" x2="995.81" y2="511" stroke="#cfcfcf" stroke-width="1" />
<line x1="1012.08" y1="507" x2="1012.08" y2="511" stroke="#cfcfcf" stroke-width="1" />
<line x1="1028.35" y1="507" x2="1028.35" y2="511" stroke="#cfcfcf" stroke-width="1" />
<line x1="1044.62" y1="507" x2="1044.62" y2="511" stroke="#cfcfcf" stroke-width="1" />
<line x1="1060.89" y1="507" x2="1060.89" y2="511" stroke="#cfcfcf" stroke-width="1" />
<line x1="1077.16" y1="507" x2="1077.16" y2="511" stroke="#cfcfcf" stroke-width="1" />
<line x1="1093.43" y1="507" x2="1093.43" y2="511" stroke="#cfcfcf" stroke-width="1" />
<line x1="1109.7" y1="507" x2="1109.7" y2="511" stroke="#cfcfcf" stroke-width="1" />
<rect x="938" y="518" width="172" height="3" fill="#e0e0e0" rx="1.5"/>
<circle cx="1028" cy="519.5" r="9" fill="url(#thumb)" />
<text x="944.15" y="563" font-size="15" fill="#fff" font-weight="normal" font-style="normal" textLength="52.57" lengthAdjust="spacingAndGlyphs" >Zoom X</text>
<rect x="938" y="581" width="172" height="3" fill="#e0e0e0" rx="1.5"/>
<circle cx="946.7" cy="582" r="8.5" fill="url(#thumb)" />
<text x="944.15" y="626" font-size="15" fill="#fff" font-weight="normal" font-style="normal" textLength="51.69" lengthAdjust="spacingAndGlyphs" >Zoom Y</text>
<rect x="938" y="643.5" width="172" height="3" fill="#e0e0e0" rx="1.5"/>
<circle cx="946.7" cy="644.5" r="8.5" fill="url(#thumb)" />
<rect x="1118" y="418" width="6" height="184" fill="#a4a4a4" rx="3"/>
<line x1="1131.5" y1="416" x2="1131.5" y2="675" stroke="#3a3a3a" stroke-width="1" />
<rect x="1293" y="436.3" width="88.5" height="182.09999999999997" fill="#3d3d3d" />
<line x1="1276.5" y1="436.3" x2="1276.5" y2="618.4" stroke="#8c8c8c" stroke-width="1" />
<line x1="1318.5" y1="436.3" x2="1318.5" y2="618.4" stroke="#8c8c8c" stroke-width="1" />
<line x1="1359.5" y1="436.3" x2="1359.5" y2="618.4" stroke="#8c8c8c" stroke-width="1" />
<line x1="1400.5" y1="436.3" x2="1400.5" y2="618.4" stroke="#8c8c8c" stroke-width="1" />
<line x1="1442.5" y1="436.3" x2="1442.5" y2="618.4" stroke="#8c8c8c" stroke-width="1" />
<line x1="1483.5" y1="436.3" x2="1483.5" y2="618.4" stroke="#8c8c8c" stroke-width="1" />
<line x1="1524.5" y1="436.3" x2="1524.5" y2="618.4" stroke="#8c8c8c" stroke-width="1" />
<line x1="1566.5" y1="436.3" x2="1566.5" y2="618.4" stroke="#8c8c8c" stroke-width="1" />
<line x1="1607.5" y1="436.3" x2="1607.5" y2="618.4" stroke="#8c8c8c" stroke-width="1" />
<line x1="1648.5" y1="436.3" x2="1648.5" y2="618.4" stroke="#8c8c8c" stroke-width="1" />
<line x1="1690.5" y1="436.3" x2="1690.5" y2="618.4" stroke="#8c8c8c" stroke-width="1" />
<line x1="1731.5" y1="436.3" x2="1731.5" y2="618.4" stroke="#8c8c8c" stroke-width="1" />
<line x1="1772.5" y1="436.3" x2="1772.5" y2="618.4" stroke="#8c8c8c" stroke-width="1" />
<line x1="1814.5" y1="436.3" x2="1814.5" y2="618.4" stroke="#8c8c8c" stroke-width="1" />
<line x1="1855.5" y1="436.3" x2="1855.5" y2="618.4" stroke="#8c8c8c" stroke-width="1" />
<line x1="1247.5" y1="472.5" x2="1867" y2="472.5" stroke="#8c8c8c" stroke-width="1" />
<line x1="1247.5" y1="509.5" x2="1867" y2="509.5" stroke="#8c8c8c" stroke-width="1" />
<line x1="1247.5" y1="545.5" x2="1867" y2="545.5" stroke="#8c8c8c" stroke-width="1" />
<line x1="1247.5" y1="581.5" x2="1867" y2="581.5" stroke="#8c8c8c" stroke-width="1" />
<rect x="1247.5" y="436.3" width="619.5" height="182.09999999999997" fill="none" stroke="#a0a0a0" stroke-width="1.4"/>
<line x1="1254.6" y1="436.3" x2="1254.6" y2="618.4" stroke="#d02020" stroke-width="1.6" />
<line x1="1381.5" y1="436.3" x2="1381.5" y2="618.4" stroke="#e8e030" stroke-width="1" stroke-dasharray="1.5,1.5"/>
<polyline points="1248.1,579.5 1249.0,575.0 1249.9,580.1 1250.7,571.8 1251.6,577.2 1252.5,584.3 1253.3,589.6 1254.2,590.5 1255.1,585.4 1255.9,580.5 1256.8,580.5 1257.7,582.4 1258.5,589.5 1259.4,590.2 1260.3,584.9 1261.1,587.0 1262.0,584.6 1262.9,586.4 1263.7,591.3 1264.6,586.8 1265.5,587.5 1266.4,586.9 1267.2,588.2 1268.1,586.0 1269.0,586.7 1269.8,587.0 1270.7,590.1 1271.6,584.3 1272.4,583.3 1273.3,576.9 1274.2,575.3 1275.0,576.2 1275.9,575.2 1276.8,574.0 1277.6,579.5 1278.5,581.3 1279.4,577.9 1280.2,578.9 1281.1,577.6 1282.0,579.4 1282.9,578.9 1283.7,579.3 1284.6,582.0 1285.5,578.7 1286.3,582.2 1287.2,579.6 1288.1,579.9 1288.9,577.8 1289.8,580.1 1290.7,583.8 1291.5,586.8 1292.4,585.5 1293.3,585.8 1294.1,588.9 1295.0,580.7 1295.9,581.3 1296.7,573.4 1297.6,571.0 1298.5,574.9 1299.4,583.5 1300.2,585.3 1301.1,583.0 1302.0,582.4 1302.8,579.1 1303.7,573.1 1304.6,570.7 1305.4,573.8 1306.3,577.6 1307.2,583.6 1308.0,589.5 1308.9,587.9 1309.8,582.4 1310.6,575.2 1311.5,578.5 1312.4,582.2 1313.2,583.6 1314.1,584.3 1315.0,581.7 1315.8,582.3 1316.7,581.7 1317.6,584.3 1318.5,589.8 1319.3,582.5 1320.2,577.7 1321.1,577.4 1321.9,583.1 1322.8,583.7 1323.7,579.6 1324.5,576.0 1325.4,576.1 1326.3,577.8 1327.1,571.7 1328.0,575.8 1328.9,579.2 1329.7,575.1 1330.6,572.5 1331.5,576.2 1332.3,578.9 1333.2,584.2 1334.1,582.9 1335.0,585.2 1335.8,577.1 1336.7,573.0 1337.6,569.7 1338.4,576.2 1339.3,579.3 1340.2,575.4 1341.0,571.1 1341.9,567.0 1342.8,560.9 1343.6,562.5 1344.5,568.4 1345.4,565.0 1346.2,562.2 1347.1,559.5 1348.0,561.7 1348.8,562.9 1349.7,567.5 1350.6,567.3 1351.5,563.4 1352.3,559.0 1353.2,554.8 1354.1,551.7 1354.9,550.6 1355.8,551.2 1356.7,553.8 1357.5,553.8 1358.4,552.4 1359.3,560.9 1360.1,562.3 1361.0,560.5 1361.9,557.1 1362.7,551.9 1363.6,548.9 1364.5,550.3 1365.3,550.4 1366.2,552.1 1367.1,550.2 1368.0,546.3 1368.8,546.4 1369.7,543.4 1370.6,539.7 1371.4,538.0 1372.3,535.7 1373.2,536.8 1374.0,536.8 1374.9,536.5 1375.8,533.3 1376.6,529.0 1377.5,525.8 1378.4,521.1 1379.2,515.5 1380.1,505.3 1381.0,492.2 1381.8,477.5 1382.7,483.2 1383.6,497.6 1384.4,509.0 1385.3,518.0 1386.2,518.3 1387.1,518.0 1387.9,519.6 1388.8,520.6 1389.7,521.4 1390.5,516.6 1391.4,512.0 1392.3,508.7 1393.1,504.2 1394.0,505.9 1394.9,501.5 1395.7,496.3 1396.6,490.0 1397.5,482.2 1398.3,472.6 1399.2,460.0 1400.1,445.1 1400.9,440.5 1401.8,454.1 1402.7,467.5 1403.6,478.1 1404.4,486.8 1405.3,493.8 1406.2,499.8 1407.0,505.1 1407.9,509.5 1408.8,517.1 1409.6,518.7 1410.5,522.2 1411.4,524.8 1412.2,526.4 1413.1,526.5 1414.0,525.0 1414.8,528.2 1415.7,535.4 1416.6,537.6 1417.4,538.9 1418.3,539.7 1419.2,540.9 1420.1,541.1 1420.9,536.7 1421.8,530.6 1422.7,519.4 1423.5,508.0 1424.4,521.5 1425.3,532.7 1426.1,539.5 1427.0,546.0 1427.9,547.4 1428.7,547.1 1429.6,545.5 1430.5,544.6 1431.3,546.8 1432.2,553.9 1433.1,562.1 1433.9,565.7 1434.8,558.5 1435.7,560.6 1436.6,562.6 1437.4,560.8 1438.3,561.9 1439.2,561.2 1440.0,567.5 1440.9,571.4 1441.8,568.6 1442.6,564.6 1443.5,563.9 1444.4,558.2 1445.2,547.5 1446.1,536.1 1447.0,543.3 1447.8,550.6 1448.7,555.6 1449.6,554.9 1450.4,558.9 1451.3,566.8 1452.2,566.5 1453.0,563.0 1453.9,566.1 1454.8,565.7 1455.7,563.7 1456.5,565.9 1457.4,566.4 1458.3,562.7 1459.1,563.7 1460.0,564.7 1460.9,568.3 1461.7,572.3 1462.6,569.2 1463.5,566.7 1464.3,566.1 1465.2,566.3 1466.1,563.6 1466.9,563.1 1467.8,561.3 1468.7,560.2 1469.5,562.6 1470.4,569.8 1471.3,570.5 1472.2,568.7 1473.0,567.5 1473.9,570.4 1474.8,581.5 1475.6,586.4 1476.5,586.1 1477.4,580.1 1478.2,574.9 1479.1,576.9 1480.0,575.3 1480.8,576.3 1481.7,570.0 1482.6,567.0 1483.4,566.4 1484.3,565.8 1485.2,562.4 1486.0,561.7 1486.9,570.4 1487.8,575.5 1488.7,576.1 1489.5,573.0 1490.4,568.7 1491.3,571.2 1492.1,572.8 1493.0,577.4 1493.9,572.2 1494.7,568.0 1495.6,574.6 1496.5,575.5 1497.3,576.1 1498.2,578.2 1499.1,578.7 1499.9,572.8 1500.8,583.8 1501.7,585.2 1502.5,591.8 1503.4,590.3 1504.3,584.6 1505.2,580.6 1506.0,578.4 1506.9,580.6 1507.8,583.8 1508.6,580.0 1509.5,578.4 1510.4,577.6 1511.2,577.3 1512.1,577.5 1513.0,578.6 1513.8,579.4 1514.7,580.0 1515.6,577.8 1516.4,571.6 1517.3,571.6 1518.2,570.6 1519.0,572.5 1519.9,581.5 1520.8,581.9 1521.6,576.1 1522.5,580.6 1523.4,577.9 1524.3,583.5 1525.1,579.7 1526.0,584.2 1526.9,586.9 1527.7,586.6 1528.6,582.8 1529.5,575.7 1530.3,575.2 1531.2,574.9 1532.1,576.3 1532.9,574.8 1533.8,576.9 1534.7,577.0 1535.5,577.5 1536.4,575.2 1537.3,579.0 1538.1,583.0 1539.0,582.4 1539.9,580.8 1540.8,582.6 1541.6,582.5 1542.5,585.9 1543.4,589.5 1544.2,594.1 1545.1,596.3 1546.0,593.3 1546.8,586.5 1547.7,581.6 1548.6,584.1 1549.4,583.1 1550.3,582.1 1551.2,585.5 1552.0,587.7 1552.9,588.4 1553.8,592.8 1554.6,589.7 1555.5,587.9 1556.4,585.7 1557.3,584.4 1558.1,584.2 1559.0,578.6 1559.9,583.0 1560.7,583.1 1561.6,585.1 1562.5,585.9 1563.3,585.9 1564.2,590.9 1565.1,589.5 1565.9,591.0 1566.8,592.1 1567.7,592.5 1568.5,597.1 1569.4,600.6 1570.3,593.5 1571.1,589.2 1572.0,588.4 1572.9,591.9 1573.7,594.0 1574.6,594.7 1575.5,599.8 1576.4,599.0 1577.2,596.9 1578.1,592.7 1579.0,591.5 1579.8,593.2 1580.7,596.6 1581.6,596.1 1582.4,598.3 1583.3,595.8 1584.2,593.0 1585.0,594.3 1585.9,592.9 1586.8,588.9 1587.6,591.2 1588.5,586.6 1589.4,586.3 1590.2,588.7 1591.1,588.0 1592.0,588.4 1592.9,590.8 1593.7,591.4 1594.6,593.3 1595.5,592.3 1596.3,598.1 1597.2,596.9 1598.1,592.4 1598.9,587.6 1599.8,585.7 1600.7,583.1 1601.5,585.8 1602.4,593.7 1603.3,589.1 1604.1,594.8 1605.0,597.9 1605.9,599.0 1606.7,594.0 1607.6,590.2 1608.5,591.3 1609.4,589.8 1610.2,586.8 1611.1,583.4 1612.0,585.2 1612.8,594.0 1613.7,590.0 1614.6,596.4 1615.4,600.0 1616.3,603.9 1617.2,600.9 1618.0,599.7 1618.9,590.1 1619.8,592.5 1620.6,595.9 1621.5,601.6 1622.4,602.5 1623.2,596.2 1624.1,597.3 1625.0,597.9 1625.9,598.0 1626.7,596.4 1627.6,591.1 1628.5,589.8 1629.3,588.7 1630.2,594.6 1631.1,593.1 1631.9,593.2 1632.8,595.4 1633.7,598.6 1634.5,602.6 1635.4,607.7 1636.3,604.4 1637.1,601.7 1638.0,595.9 1638.9,594.3 1639.7,590.6 1640.6,591.4 1641.5,596.8 1642.3,601.8 1643.2,601.4 1644.1,601.4 1645.0,598.8 1645.8,597.6 1646.7,600.2 1647.6,601.8 1648.4,601.9 1649.3,604.2 1650.2,603.0 1651.0,596.7 1651.9,596.3 1652.8,594.9 1653.6,604.3 1654.5,604.4 1655.4,610.4 1656.2,604.6 1657.1,608.1 1658.0,604.4 1658.8,597.7 1659.7,597.8 1660.6,594.3 1661.5,594.3 1662.3,596.1 1663.2,596.3 1664.1,597.2 1664.9,592.2 1665.8,589.4 1666.7,594.3 1667.5,598.8 1668.4,599.4 1669.3,596.4 1670.1,596.7 1671.0,595.3 1671.9,595.1 1672.7,597.5 1673.6,597.7 1674.5,601.2 1675.3,600.1 1676.2,596.9 1677.1,599.6 1678.0,591.1 1678.8,587.3 1679.7,588.3 1680.6,592.1 1681.4,592.6 1682.3,593.0 1683.2,594.6 1684.0,593.0 1684.9,591.4 1685.8,588.7 1686.6,590.8 1687.5,596.0 1688.4,601.0 1689.2,601.2 1690.1,596.9 1691.0,597.1 1691.8,600.4 1692.7,606.3 1693.6,601.5 1694.5,593.3 1695.3,590.5 1696.2,579.4 1697.1,586.1 1697.9,592.8 1698.8,602.1 1699.7,603.4 1700.5,598.8 1701.4,597.8 1702.3,602.7 1703.1,595.8 1704.0,598.0 1704.9,597.4 1705.7,598.2 1706.6,595.2 1707.5,602.8 1708.3,608.0 1709.2,607.1 1710.1,603.7 1710.9,594.9 1711.8,593.1 1712.7,596.3 1713.6,599.3 1714.4,599.9 1715.3,598.1 1716.2,599.2 1717.0,599.8 1717.9,603.4 1718.8,604.3 1719.6,596.9 1720.5,595.6 1721.4,600.8 1722.2,602.1 1723.1,601.4 1724.0,592.1 1724.8,586.6 1725.7,588.9 1726.6,588.7 1727.4,590.9 1728.3,594.8 1729.2,593.5 1730.1,595.2 1730.9,586.4 1731.8,591.1 1732.7,594.5 1733.5,596.7 1734.4,590.4 1735.3,591.6 1736.1,594.1 1737.0,601.4 1737.9,601.9 1738.7,601.7 1739.6,593.2 1740.5,593.4 1741.3,588.3 1742.2,592.5 1743.1,594.7 1743.9,590.3 1744.8,594.1 1745.7,588.8 1746.6,588.2 1747.4,587.5 1748.3,589.5 1749.2,590.4 1750.0,592.2 1750.9,588.9 1751.8,592.5 1752.6,592.1 1753.5,598.0 1754.4,596.0 1755.2,593.3 1756.1,597.1 1757.0,594.5 1757.8,595.3 1758.7,594.0 1759.6,594.1 1760.4,593.1 1761.3,590.4 1762.2,589.2 1763.1,584.2 1763.9,589.1 1764.8,586.8 1765.7,589.6 1766.5,597.5 1767.4,594.3 1768.3,598.4 1769.1,603.3 1770.0,601.7 1770.9,599.9 1771.7,591.6 1772.6,587.3 1773.5,587.5 1774.3,591.5 1775.2,592.4 1776.1,589.3 1776.9,590.3 1777.8,597.1 1778.7,596.6 1779.5,601.3 1780.4,596.6 1781.3,593.4 1782.2,594.1 1783.0,593.0 1783.9,590.9 1784.8,594.9 1785.6,598.2 1786.5,597.9 1787.4,598.9 1788.2,597.7 1789.1,588.8 1790.0,584.1 1790.8,579.3 1791.7,582.1 1792.6,586.9 1793.4,594.0 1794.3,595.8 1795.2,594.6 1796.0,586.3 1796.9,588.6 1797.8,593.3 1798.7,587.0 1799.5,592.4 1800.4,583.8 1801.3,590.2 1802.1,587.7 1803.0,591.5 1803.9,589.8 1804.7,594.0 1805.6,598.6 1806.5,598.0 1807.3,596.8 1808.2,589.1 1809.1,590.1 1809.9,591.2 1810.8,592.8 1811.7,591.0 1812.5,584.2 1813.4,585.1 1814.3,585.1 1815.2,586.5 1816.0,587.3 1816.9,590.0 1817.8,596.3 1818.6,596.4 1819.5,596.2 1820.4,594.4 1821.2,597.2 1822.1,587.1 1823.0,583.0 1823.8,588.5 1824.7,589.3 1825.6,590.6 1826.4,586.6 1827.3,589.6 1828.2,585.9 1829.0,589.7 1829.9,589.7 1830.8,589.4 1831.6,590.3 1832.5,585.6 1833.4,584.9 1834.3,584.0 1835.1,584.9 1836.0,586.3 1836.9,583.0 1837.7,584.2 1838.6,583.2 1839.5,587.7 1840.3,590.0 1841.2,594.1 1842.1,595.7 1842.9,597.5 1843.8,587.1 1844.7,587.7 1845.5,586.9 1846.4,590.7 1847.3,592.9 1848.1,594.0 1849.0,589.2 1849.9,586.4 1850.8,583.2 1851.6,580.9 1852.5,588.9 1853.4,588.8 1854.2,590.4 1855.1,589.7 1856.0,592.6 1856.8,586.7 1857.7,582.6 1858.6,575.7 1859.4,582.5 1860.3,580.3 1861.2,579.0 1862.0,583.0 1862.9,581.8 1863.8,583.8 1864.6,587.3 1865.5,586.2 1866.4,583.2" fill="none" stroke="#f2f2f2" stroke-width="1.1" stroke-linejoin="round"/>
<circle cx="1382" cy="475" r="5.2" fill="#ee1111" />
<circle cx="1400.7" cy="436.5" r="5.2" fill="#f0e020" />
<line x1="1396" y1="436.5" x2="1405.5" y2="436.5" stroke="#555" stroke-width="1" />
<circle cx="1423.4" cy="508" r="5.2" fill="#1aa0e0" />
<circle cx="1445.5" cy="532" r="5.2" fill="#7020d0" />
<text x="1237" y="441.1" font-size="16" fill="#fff" text-anchor="end" font-weight="normal" font-style="normal" >-10.0</text>
<text x="1237" y="477.52000000000004" font-size="16" fill="#fff" text-anchor="end" font-weight="normal" font-style="normal" >-20.0</text>
<text x="1237" y="513.9399999999999" font-size="16" fill="#fff" text-anchor="end" font-weight="normal" font-style="normal" >-30.0</text>
<text x="1237" y="550.3599999999999" font-size="16" fill="#fff" text-anchor="end" font-weight="normal" font-style="normal" >-40.0</text>
<text x="1237" y="586.78" font-size="16" fill="#fff" text-anchor="end" font-weight="normal" font-style="normal" >-50.0</text>
<text x="1237" y="623.1999999999999" font-size="16" fill="#fff" text-anchor="end" font-weight="normal" font-style="normal" >-60.0</text>
<text x="1276.65" y="634.7" font-size="13" fill="#fff" text-anchor="middle" font-weight="normal" font-style="normal" >-60</text>
<text x="1318.0" y="634.7" font-size="13" fill="#fff" text-anchor="middle" font-weight="normal" font-style="normal" >-40</text>
<text x="1359.3500000000001" y="634.7" font-size="13" fill="#fff" text-anchor="middle" font-weight="normal" font-style="normal" >-20</text>
<text x="1400.7" y="634.7" font-size="13" fill="#fff" text-anchor="middle" font-weight="normal" font-style="normal" >0</text>
<text x="1442.05" y="634.7" font-size="13" fill="#fff" text-anchor="middle" font-weight="normal" font-style="normal" >20</text>
<text x="1483.4" y="634.7" font-size="13" fill="#fff" text-anchor="middle" font-weight="normal" font-style="normal" >40</text>
<text x="1524.75" y="634.7" font-size="13" fill="#fff" text-anchor="middle" font-weight="normal" font-style="normal" >60</text>
<text x="1566.1000000000001" y="634.7" font-size="13" fill="#fff" text-anchor="middle" font-weight="normal" font-style="normal" >80</text>
<text x="1607.45" y="634.7" font-size="13" fill="#fff" text-anchor="middle" font-weight="normal" font-style="normal" >100</text>
<text x="1648.8000000000002" y="634.7" font-size="13" fill="#fff" text-anchor="middle" font-weight="normal" font-style="normal" >120</text>
<text x="1690.15" y="634.7" font-size="13" fill="#fff" text-anchor="middle" font-weight="normal" font-style="normal" >140</text>
<text x="1731.5" y="634.7" font-size="13" fill="#fff" text-anchor="middle" font-weight="normal" font-style="normal" >160</text>
<text x="1772.8500000000001" y="634.7" font-size="13" fill="#fff" text-anchor="middle" font-weight="normal" font-style="normal" >180</text>
<text x="1814.2" y="634.7" font-size="13" fill="#fff" text-anchor="middle" font-weight="normal" font-style="normal" >200</text>
<text x="1855.5500000000002" y="634.7" font-size="13" fill="#fff" text-anchor="middle" font-weight="normal" font-style="normal" >220</text>
<text x="1463.82" y="659.2" font-size="17" fill="#fff" font-weight="normal" font-style="normal" textLength="188.90" lengthAdjust="spacingAndGlyphs" >Distance Difference (km)</text>
<text x="0" y="0" font-size="15.5" font-weight="bold" fill="#fff" text-anchor="middle" transform="translate(1179,528.5) rotate(-90)">Magnitude (dB)</text>
<rect x="925" y="675" width="973" height="6" fill="#8b8b8b" />
<rect x="925" y="681" width="973" height="25" fill="#0e2c51" />
<text x="1379.25" y="698" font-size="17" fill="#fff" font-weight="normal" font-style="normal" textLength="88.37" lengthAdjust="spacingAndGlyphs" >TII Carriers</text>
<path d="M1877 687 L1893 687 L1885.0 700 Z" fill="none" stroke="#c8d4e8" stroke-width="1.1"/>
<rect x="925" y="706" width="973" height="255" fill="#000" />
<line x1="1085.5" y1="726.4" x2="1085.5" y2="902.3" stroke="#8c8c8c" stroke-width="1" />
<line x1="1166.5" y1="726.4" x2="1166.5" y2="902.3" stroke="#8c8c8c" stroke-width="1" />
<line x1="1246.5" y1="726.4" x2="1246.5" y2="902.3" stroke="#8c8c8c" stroke-width="1" />
<line x1="1326.5" y1="726.4" x2="1326.5" y2="902.3" stroke="#8c8c8c" stroke-width="1" />
<line x1="1407.5" y1="726.4" x2="1407.5" y2="902.3" stroke="#8c8c8c" stroke-width="1" />
<line x1="1487.5" y1="726.4" x2="1487.5" y2="902.3" stroke="#8c8c8c" stroke-width="1" />
<line x1="1568.5" y1="726.4" x2="1568.5" y2="902.3" stroke="#8c8c8c" stroke-width="1" />
<line x1="1648.5" y1="726.4" x2="1648.5" y2="902.3" stroke="#8c8c8c" stroke-width="1" />
<line x1="1728.5" y1="726.4" x2="1728.5" y2="902.3" stroke="#8c8c8c" stroke-width="1" />
<line x1="1809.5" y1="726.4" x2="1809.5" y2="902.3" stroke="#8c8c8c" stroke-width="1" />
<line x1="1034.9" y1="867.5" x2="1859.3" y2="867.5" stroke="#8c8c8c" stroke-width="1" />
<line x1="1034.9" y1="831.5" x2="1859.3" y2="831.5" stroke="#8c8c8c" stroke-width="1" />
<line x1="1034.9" y1="796.5" x2="1859.3" y2="796.5" stroke="#8c8c8c" stroke-width="1" />
<line x1="1034.9" y1="761.5" x2="1859.3" y2="761.5" stroke="#8c8c8c" stroke-width="1" />
<rect x="1034.9" y="726.4" width="824.3999999999999" height="175.89999999999998" fill="none" stroke="#a0a0a0" stroke-width="1.4"/>
<line x1="1035.5" y1="726.4" x2="1035.5" y2="902.3" stroke="#d03030" stroke-width="1.6" />
<line x1="1138.6756" y1="726.4" x2="1138.6756" y2="902.3" stroke="#e8e020" stroke-width="2.2" stroke-dasharray="2,2.2"/>
<line x1="1293.0628000000002" y1="726.4" x2="1293.0628000000002" y2="902.3" stroke="#e8e020" stroke-width="2.2" stroke-dasharray="2,2.2"/>
<line x1="1447.45" y1="726.4" x2="1447.45" y2="902.3" stroke="#e8e020" stroke-width="2.2" stroke-dasharray="2,2.2"/>
<line x1="1601.8372" y1="726.4" x2="1601.8372" y2="902.3" stroke="#e8e020" stroke-width="2.2" stroke-dasharray="2,2.2"/>
<line x1="1756.2244" y1="726.4" x2="1756.2244" y2="902.3" stroke="#e8e020" stroke-width="2.2" stroke-dasharray="2,2.2"/>
<polyline points="1138.0,900.3 1140.0,899.7 1142.0,901.0 1144.0,900.8 1146.0,899.9 1148.0,901.2 1150.0,900.6 1152.0,900.4 1154.0,900.4 1156.0,899.3 1158.0,901.0 1160.0,899.8 1162.0,900.2 1164.0,899.4 1166.0,901.1 1168.0,899.2 1170.0,901.2 1172.0,899.9 1174.0,900.5 1176.0,900.7 1178.0,900.4 1180.0,900.6 1182.0,901.2 1184.0,900.6 1186.0,900.8 1188.0,900.3 1190.0,899.3 1192.0,901.0 1194.0,900.1 1196.0,901.1 1198.0,899.8 1200.0,901.3 1202.0,901.3 1204.0,900.9 1206.0,900.0 1208.0,900.8 1210.0,900.0 1212.0,899.7 1214.0,901.0 1216.0,900.0 1218.0,899.9 1220.0,900.4 1222.0,898.9 1224.0,901.0 1226.0,900.0 1228.0,901.3 1230.0,901.2 1232.0,898.9 1234.0,901.0 1236.0,901.0 1238.0,900.1 1240.0,899.9 1242.0,900.4 1244.0,900.0 1246.0,900.9 1248.0,900.3 1250.0,899.6 1252.0,900.6 1254.0,898.4 1256.0,900.5 1258.0,900.3 1260.0,900.3 1262.0,900.6 1264.0,901.2 1266.0,899.7 1268.0,900.8 1270.0,901.1 1272.0,901.3 1274.0,900.6 1276.0,900.9 1278.0,901.1 1280.0,901.0 1282.0,901.2 1284.0,900.3 1286.0,900.2 1288.0,899.7 1290.0,899.9 1292.0,899.8 1294.0,900.1 1296.0,900.9 1298.0,900.1 1300.0,899.9 1302.0,900.8 1304.0,900.0 1306.0,899.8 1308.0,900.6 1310.0,899.9 1312.0,900.9 1314.0,901.3 1316.0,900.8 1318.0,901.2 1320.0,899.7 1322.0,900.7 1324.0,899.8 1326.0,899.1 1328.0,901.1 1330.0,900.9 1332.0,901.0 1334.0,900.7 1336.0,900.7 1338.0,900.4 1340.0,900.7 1342.0,901.1 1344.0,900.8 1346.0,901.2 1348.0,899.0 1350.0,900.7 1352.0,899.4 1354.0,899.2 1356.0,900.9 1358.0,900.2 1360.0,900.2 1362.0,901.3 1364.0,900.6 1366.0,900.5 1368.0,900.1 1370.0,901.2 1372.0,900.0 1374.0,900.9 1376.0,900.8 1378.0,899.0 1380.0,899.8 1382.0,901.0 1384.0,900.9 1386.0,900.0 1388.0,900.1 1390.0,901.3 1392.0,900.8 1394.0,900.7 1396.0,901.2 1398.0,900.4 1400.0,900.9 1402.0,900.3 1404.0,900.7 1406.0,900.7 1408.0,899.1 1410.0,900.6 1412.0,901.1 1414.0,900.4 1416.0,900.2 1418.0,900.9 1420.0,900.3 1422.0,900.5 1424.0,899.4 1426.0,901.3 1428.0,899.5 1430.0,899.0 1432.0,900.0 1434.0,900.0 1436.0,899.6 1438.0,901.3 1440.0,899.1 1442.0,900.8 1444.0,900.7 1446.0,899.4 1448.0,900.3 1450.0,901.0 1452.0,901.0 1454.0,900.8 1456.0,900.2 1458.0,901.0 1460.0,900.0 1462.0,900.6 1464.0,900.2 1466.0,899.9 1468.0,901.2 1470.0,900.5 1472.0,900.5 1474.0,899.3 1476.0,899.0 1478.0,900.2 1480.0,900.1 1482.0,900.2 1484.0,899.7 1486.0,898.4 1488.0,900.6 1490.0,900.8 1492.0,900.5 1494.0,901.2 1496.0,901.0 1498.0,901.2 1500.0,899.1 1502.0,898.7 1504.0,900.7 1506.0,900.2 1508.0,898.1 1510.0,900.1 1512.0,900.6 1514.0,901.3 1516.0,900.7 1518.0,900.1 1520.0,900.8 1522.0,900.3 1524.0,900.7 1526.0,901.0 1528.0,899.0 1530.0,901.3 1532.0,899.7 1534.0,900.0 1536.0,899.6 1538.0,900.7 1540.0,898.8 1542.0,900.6 1544.0,901.3 1546.0,899.9 1548.0,900.1 1550.0,900.5 1552.0,900.3 1554.0,900.5 1556.0,901.1 1558.0,899.2 1560.0,899.2 1562.0,900.3 1564.0,900.9 1566.0,899.9 1568.0,901.1 1570.0,901.2 1572.0,900.3 1574.0,901.3 1576.0,901.2 1578.0,898.0 1580.0,901.1 1582.0,899.8 1584.0,899.7 1586.0,901.1 1588.0,899.9 1590.0,898.7 1592.0,901.2 1594.0,900.3 1596.0,898.4 1598.0,899.9 1600.0,900.0 1602.0,901.0 1604.0,900.0 1606.0,900.9 1608.0,900.6 1610.0,900.4 1612.0,900.8 1614.0,901.0 1616.0,900.5 1618.0,901.2 1620.0,899.7 1622.0,900.9 1624.0,900.5 1626.0,901.1 1628.0,899.7 1630.0,900.4 1632.0,900.5 1634.0,901.2 1636.0,900.2 1638.0,899.4 1640.0,901.2 1642.0,900.9 1644.0,900.9 1646.0,900.9 1648.0,901.0 1650.0,900.9 1652.0,900.1 1654.0,900.2 1656.0,899.7 1658.0,900.3 1660.0,900.9 1662.0,901.2 1664.0,900.7 1666.0,900.9 1668.0,900.6 1670.0,899.9 1672.0,900.3 1674.0,899.2 1676.0,899.9 1678.0,901.3 1680.0,900.4 1682.0,899.7 1684.0,899.2 1686.0,900.4 1688.0,901.1 1690.0,900.9 1692.0,901.2 1694.0,901.1 1696.0,901.0 1698.0,900.0 1700.0,899.8 1702.0,901.3 1704.0,901.2 1706.0,901.2 1708.0,898.5 1710.0,900.7 1712.0,900.9 1714.0,901.0 1716.0,901.2 1718.0,900.1 1720.0,900.3 1722.0,900.5 1724.0,900.2 1726.0,900.3 1728.0,901.1 1730.0,900.4 1732.0,900.6 1734.0,899.5 1736.0,900.0 1738.0,900.0 1740.0,899.9 1742.0,901.2 1744.0,900.5 1746.0,900.5 1748.0,900.7 1750.0,900.2 1752.0,901.1 1754.0,900.2 1756.0,898.8" fill="none" stroke="#777" stroke-width="1"/>
<path d="M1163.4,902.3 L1164.5,839.0 L1165.3,839.0 L1165.8,902.3 Z" fill="#a0cc40"/>
<path d="M1160.7,902.3 L1161.7,894.3 L1162.7,902.3" fill="none" stroke="#c8c040" stroke-width="0.8"/>
<path d="M1202.5,902.3 L1203.6,863.6 L1204.4,863.6 L1204.9,902.3 Z" fill="#a0cc40"/>
<path d="M1199.8,902.3 L1200.8,894.3 L1201.8,902.3" fill="none" stroke="#c8c040" stroke-width="0.8"/>
<path d="M1221.5,902.3 L1222.6,858.3 L1223.4,858.3 L1223.9,902.3 Z" fill="#a0cc40"/>
<path d="M1218.8,902.3 L1219.8,894.3 L1220.8,902.3" fill="none" stroke="#c8c040" stroke-width="0.8"/>
<path d="M1260.3,902.3 L1261.4,877.7 L1262.2,877.7 L1262.7,902.3 Z" fill="#a0cc40"/>
<path d="M1257.6,902.3 L1258.6,894.3 L1259.6,902.3" fill="none" stroke="#c8c040" stroke-width="0.8"/>
<path d="M1318.5,902.3 L1319.6,879.4 L1320.4,879.4 L1320.9,902.3 Z" fill="#a0cc40"/>
<path d="M1315.8,902.3 L1316.8,894.3 L1317.8,902.3" fill="none" stroke="#c8c040" stroke-width="0.8"/>
<path d="M1356.9,902.3 L1358.0,879.4 L1358.8,879.4 L1359.3,902.3 Z" fill="#a0cc40"/>
<path d="M1354.2,902.3 L1355.2,894.3 L1356.2,902.3" fill="none" stroke="#c8c040" stroke-width="0.8"/>
<path d="M1376.0,902.3 L1377.1,881.2 L1377.9,881.2 L1378.4,902.3 Z" fill="#a0cc40"/>
<path d="M1373.3,902.3 L1374.3,894.3 L1375.3,902.3" fill="none" stroke="#c8c040" stroke-width="0.8"/>
<path d="M1414.8,902.3 L1415.9,881.2 L1416.7,881.2 L1417.2,902.3 Z" fill="#a0cc40"/>
<path d="M1412.1,902.3 L1413.1,894.3 L1414.1,902.3" fill="none" stroke="#c8c040" stroke-width="0.8"/>
<path d="M1473.2,902.3 L1474.3,888.2 L1475.1,888.2 L1475.6,902.3 Z" fill="#a0cc40"/>
<path d="M1470.5,902.3 L1471.5,894.3 L1472.5,902.3" fill="none" stroke="#c8c040" stroke-width="0.8"/>
<path d="M1511.7,902.3 L1512.8,893.5 L1513.6,893.5 L1514.1,902.3 Z" fill="#a0cc40"/>
<path d="M1509.0,902.3 L1510.0,894.3 L1511.0,902.3" fill="none" stroke="#c8c040" stroke-width="0.8"/>
<path d="M1531.0,902.3 L1532.1,890.0 L1532.9,890.0 L1533.4,902.3 Z" fill="#a0cc40"/>
<path d="M1528.3,902.3 L1529.3,894.3 L1530.3,902.3" fill="none" stroke="#c8c040" stroke-width="0.8"/>
<path d="M1569.7,902.3 L1570.8,884.7 L1571.6,884.7 L1572.1,902.3 Z" fill="#a0cc40"/>
<path d="M1567.0,902.3 L1568.0,894.3 L1569.0,902.3" fill="none" stroke="#c8c040" stroke-width="0.8"/>
<path d="M1627.6,902.3 L1628.7,867.1 L1629.5,867.1 L1630.0,902.3 Z" fill="#a0cc40"/>
<path d="M1624.9,902.3 L1625.9,894.3 L1626.9,902.3" fill="none" stroke="#c8c040" stroke-width="0.8"/>
<path d="M1666.3,902.3 L1667.4,876.8 L1668.2,876.8 L1668.7,902.3 Z" fill="#a0cc40"/>
<path d="M1663.6,902.3 L1664.6,894.3 L1665.6,902.3" fill="none" stroke="#c8c040" stroke-width="0.8"/>
<path d="M1685.7,902.3 L1686.8,877.7 L1687.6,877.7 L1688.1,902.3 Z" fill="#a0cc40"/>
<path d="M1683.0,902.3 L1684.0,894.3 L1685.0,902.3" fill="none" stroke="#c8c040" stroke-width="0.8"/>
<path d="M1724.5,902.3 L1725.6,853.0 L1726.4,853.0 L1726.9,902.3 Z" fill="#a0cc40"/>
<path d="M1721.8,902.3 L1722.8,894.3 L1723.8,902.3" fill="none" stroke="#c8c040" stroke-width="0.8"/>
<path d="M1158.4,902.3 L1159.0,772.1 L1160.2,772.1 L1160.7,902.3 Z" fill="#ececec"/>
<path d="M1196.9,902.3 L1197.5,770.4 L1198.8,770.4 L1199.2,902.3 Z" fill="#ececec"/>
<path d="M1216.3,902.3 L1216.9,793.2 L1218.2,793.2 L1218.6,902.3 Z" fill="#ececec"/>
<path d="M1254.8,902.3 L1255.4,795.0 L1256.7,795.0 L1257.1,902.3 Z" fill="#ececec"/>
<path d="M1312.6,902.3 L1313.2,816.1 L1314.5,816.1 L1314.9,902.3 Z" fill="#ececec"/>
<path d="M1351.4,902.3 L1352.0,819.6 L1353.2,819.6 L1353.7,902.3 Z" fill="#ececec"/>
<path d="M1370.7,902.3 L1371.2,810.8 L1372.5,810.8 L1373.0,902.3 Z" fill="#ececec"/>
<path d="M1409.7,902.3 L1410.2,817.9 L1411.5,817.9 L1412.0,902.3 Z" fill="#ececec"/>
<path d="M1467.9,902.3 L1468.5,810.8 L1469.8,810.8 L1470.2,902.3 Z" fill="#ececec"/>
<path d="M1506.4,902.3 L1507.0,809.1 L1508.2,809.1 L1508.7,902.3 Z" fill="#ececec"/>
<path d="M1525.8,902.3 L1526.4,798.5 L1527.7,798.5 L1528.1,902.3 Z" fill="#ececec"/>
<path d="M1564.5,902.3 L1565.0,796.8 L1566.3,796.8 L1566.8,902.3 Z" fill="#ececec"/>
<path d="M1622.3,902.3 L1622.9,772.1 L1624.2,772.1 L1624.6,902.3 Z" fill="#ececec"/>
<path d="M1661.1,902.3 L1661.7,745.7 L1663.0,745.7 L1663.4,902.3 Z" fill="#ececec"/>
<path d="M1680.5,902.3 L1681.0,742.2 L1682.3,742.2 L1682.8,902.3 Z" fill="#ececec"/>
<path d="M1718.9,902.3 L1719.5,727.3 L1720.8,727.3 L1721.2,902.3 Z" fill="#ececec"/>
<text x="1022" y="731.8" font-size="16" fill="#fff" text-anchor="end" font-weight="normal" font-style="normal" >1.0</text>
<text x="1022" y="766.9799999999999" font-size="16" fill="#fff" text-anchor="end" font-weight="normal" font-style="normal" >0.8</text>
<text x="1022" y="802.16" font-size="16" fill="#fff" text-anchor="end" font-weight="normal" font-style="normal" >0.6</text>
<text x="1022" y="837.3399999999999" font-size="16" fill="#fff" text-anchor="end" font-weight="normal" font-style="normal" >0.4</text>
<text x="1022" y="872.52" font-size="16" fill="#fff" text-anchor="end" font-weight="normal" font-style="normal" >0.2</text>
<text x="1022" y="907.6999999999999" font-size="16" fill="#fff" text-anchor="end" font-weight="normal" font-style="normal" >0.0</text>
<text x="1085.605" y="922" font-size="16" fill="#fff" text-anchor="middle" font-weight="normal" font-style="normal" >-900</text>
<text x="1166.015" y="922" font-size="16" fill="#fff" text-anchor="middle" font-weight="normal" font-style="normal" >-700</text>
<text x="1246.4250000000002" y="922" font-size="16" fill="#fff" text-anchor="middle" font-weight="normal" font-style="normal" >-500</text>
<text x="1326.835" y="922" font-size="16" fill="#fff" text-anchor="middle" font-weight="normal" font-style="normal" >-300</text>
<text x="1407.2450000000001" y="922" font-size="16" fill="#fff" text-anchor="middle" font-weight="normal" font-style="normal" >-100</text>
<text x="1487.655" y="922" font-size="16" fill="#fff" text-anchor="middle" font-weight="normal" font-style="normal" >100</text>
<text x="1568.065" y="922" font-size="16" fill="#fff" text-anchor="middle" font-weight="normal" font-style="normal" >300</text>
<text x="1648.475" y="922" font-size="16" fill="#fff" text-anchor="middle" font-weight="normal" font-style="normal" >500</text>
<text x="1728.885" y="922" font-size="16" fill="#fff" text-anchor="middle" font-weight="normal" font-style="normal" >700</text>
<text x="1809.295" y="922" font-size="16" fill="#fff" text-anchor="middle" font-weight="normal" font-style="normal" >900</text>
<text x="1397.57" y="948.2" font-size="16" fill="#fff" font-weight="normal" font-style="normal" textLength="100.84" lengthAdjust="spacingAndGlyphs" >TII Subcarrier</text>
<text x="0" y="0" font-size="15.5" font-weight="bold" fill="#fff" text-anchor="middle" transform="translate(979,815) rotate(-90)">Magnitude</text>
</svg></body></html>
